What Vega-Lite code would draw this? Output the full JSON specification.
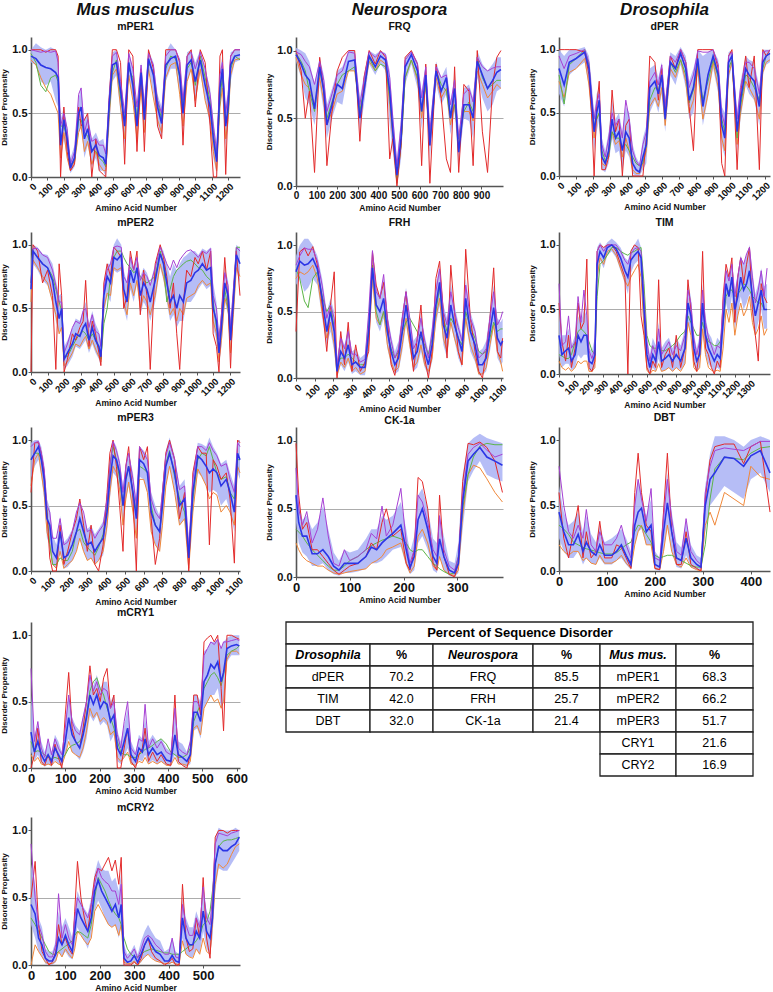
{
"$schema":"https://vega.github.io/schema/vega-lite/v6.json",
"background":"white",
"padding":0,
"config":{
"font":"Liberation Sans",
"view":{"stroke":null},
"title":{"fontSize":10.5,"fontWeight":"bold","color":"#111","frame":"group","anchor":"middle","offset":4,"subtitleFontSize":10.5,"subtitleFontWeight":"bold","subtitleColor":"#111","subtitleFont":"Liberation Sans"},
"axis":{"domainColor":"#555","domainWidth":1.6,"tickColor":"#555","tickWidth":1,"tickSize":3,"labelFontWeight":"bold","labelColor":"#111","labelFontSize":10,"labelPadding":1,"titleFontWeight":"bold","titleColor":"#111","titleFontSize":8.5,"titlePadding":3,"grid":false,"labelOverlap":false,"labelFlush":false},
"axisY":{"labelFontSize":11,"titleFontSize":8}
},
"datasets":{
"mPER1":[
{"x":0,"b":0.95,"l":0.9,"h":1,"r":1,"v":1,"o":0.92,"g":0.97},
{"x":30,"b":0.93,"l":0.88,"h":1.05,"r":1,"v":0.99,"o":0.88,"g":0.9},
{"x":60,"b":0.88,"l":0.75,"h":1.02,"r":1,"v":0.98,"o":0.78,"g":0.72},
{"x":90,"b":0.86,"l":0.72,"h":1,"r":0.98,"v":0.99,"o":0.7,"g":0.67},
{"x":120,"b":0.85,"l":0.75,"h":1.02,"r":1,"v":0.98,"o":0.65,"g":0.78},
{"x":150,"b":0.82,"l":0.6,"h":1,"r":1,"v":0.99,"o":0.55,"g":0.8},
{"x":165,"b":0.78,"l":0.55,"h":0.95,"r":0.95,"v":0.9,"o":0.5,"g":0.75},
{"x":180,"b":0.25,"l":0.1,"h":0.45,"r":0,"v":0.4,"o":0.15,"g":0.4},
{"x":200,"b":0.45,"l":0.3,"h":0.55,"r":0.55,"v":0.5,"o":0.35,"g":0.4},
{"x":220,"b":0.3,"l":0.15,"h":0.4,"r":0.2,"v":0.38,"o":0.15,"g":0.3},
{"x":240,"b":0.07,"l":0.03,"h":0.15,"r":0.05,"v":0.1,"o":0.05,"g":0.1},
{"x":265,"b":0.15,"l":0.08,"h":0.25,"r":0.1,"v":0.2,"o":0.12,"g":0.12},
{"x":290,"b":0.5,"l":0.35,"h":0.62,"r":0.55,"v":0.65,"o":0.35,"g":0.45},
{"x":305,"b":0.55,"l":0.4,"h":0.7,"r":0.4,"v":0.7,"o":0.4,"g":0.45},
{"x":325,"b":0.3,"l":0.15,"h":0.45,"r":0.45,"v":0.35,"o":0.2,"g":0.35},
{"x":345,"b":0.38,"l":0.25,"h":0.5,"r":0.5,"v":0.45,"o":0.28,"g":0.32},
{"x":370,"b":0.2,"l":0.08,"h":0.3,"r":0,"v":0.28,"o":0.1,"g":0.22},
{"x":395,"b":0.25,"l":0.15,"h":0.35,"r":0.3,"v":0.3,"o":0.2,"g":0.2},
{"x":415,"b":0.17,"l":0.05,"h":0.28,"r":0.05,"v":0.25,"o":0.1,"g":0.15},
{"x":440,"b":0.15,"l":0.05,"h":0.3,"r":0.02,"v":0.25,"o":0.05,"g":0.12},
{"x":455,"b":0.1,"l":0,"h":0.2,"r":0,"v":0.18,"o":0.05,"g":0.08},
{"x":475,"b":0.55,"l":0.35,"h":0.7,"r":0.6,"v":0.6,"o":0.45,"g":0.5},
{"x":495,"b":0.88,"l":0.75,"h":0.98,"r":1,"v":0.95,"o":0.8,"g":0.82},
{"x":520,"b":0.9,"l":0.8,"h":1,"r":1,"v":0.98,"o":0.85,"g":0.92},
{"x":545,"b":0.68,"l":0.5,"h":0.8,"r":0.9,"v":0.75,"o":0.55,"g":0.62},
{"x":570,"b":0.4,"l":0.25,"h":0.5,"r":0.1,"v":0.5,"o":0.3,"g":0.45},
{"x":595,"b":0.9,"l":0.8,"h":1,"r":1,"v":0.97,"o":0.8,"g":0.85},
{"x":620,"b":0.72,"l":0.6,"h":0.85,"r":0.95,"v":0.85,"o":0.6,"g":0.78},
{"x":645,"b":0.4,"l":0.3,"h":0.55,"r":0.2,"v":0.55,"o":0.3,"g":0.45},
{"x":670,"b":0.82,"l":0.7,"h":0.9,"r":0.85,"v":0.88,"o":0.7,"g":0.8},
{"x":690,"b":0.45,"l":0.35,"h":0.6,"r":0.2,"v":0.55,"o":0.35,"g":0.5},
{"x":715,"b":0.93,"l":0.85,"h":1,"r":1,"v":0.97,"o":0.85,"g":0.9},
{"x":745,"b":0.8,"l":0.65,"h":0.9,"r":0.85,"v":0.88,"o":0.62,"g":0.82},
{"x":770,"b":0.55,"l":0.42,"h":0.65,"r":0.4,"v":0.6,"o":0.45,"g":0.6},
{"x":795,"b":0.42,"l":0.3,"h":0.55,"r":0.3,"v":0.5,"o":0.35,"g":0.45},
{"x":820,"b":0.88,"l":0.75,"h":0.98,"r":1,"v":0.95,"o":0.78,"g":0.85},
{"x":850,"b":0.93,"l":0.85,"h":1.05,"r":1,"v":1,"o":0.88,"g":0.95},
{"x":880,"b":0.95,"l":0.85,"h":1,"r":1,"v":1,"o":0.9,"g":0.93},
{"x":905,"b":0.8,"l":0.65,"h":0.9,"r":0.9,"v":0.92,"o":0.65,"g":0.78},
{"x":925,"b":0.5,"l":0.35,"h":0.65,"r":0.25,"v":0.6,"o":0.4,"g":0.58},
{"x":950,"b":0.88,"l":0.75,"h":0.98,"r":0.95,"v":0.95,"o":0.75,"g":0.85},
{"x":975,"b":0.92,"l":0.85,"h":1,"r":1,"v":0.98,"o":0.85,"g":0.9},
{"x":1000,"b":0.75,"l":0.6,"h":0.9,"r":0.55,"v":0.85,"o":0.6,"g":0.72},
{"x":1030,"b":0.92,"l":0.82,"h":1,"r":1,"v":0.98,"o":0.85,"g":0.95},
{"x":1060,"b":0.72,"l":0.6,"h":0.85,"r":0.9,"v":0.85,"o":0.6,"g":0.78},
{"x":1090,"b":0.55,"l":0.4,"h":0.7,"r":0.4,"v":0.65,"o":0.45,"g":0.6},
{"x":1110,"b":0.3,"l":0.15,"h":0.45,"r":0,"v":0.4,"o":0.2,"g":0.35},
{"x":1130,"b":0.12,"l":0.02,"h":0.25,"r":0,"v":0.2,"o":0.05,"g":0.15},
{"x":1150,"b":0.7,"l":0.55,"h":0.85,"r":0.95,"v":0.8,"o":0.55,"g":0.6},
{"x":1165,"b":0.85,"l":0.7,"h":0.95,"r":1,"v":0.9,"o":0.7,"g":0.8},
{"x":1185,"b":0.4,"l":0.25,"h":0.55,"r":0.02,"v":0.5,"o":0.3,"g":0.45},
{"x":1200,"b":0.55,"l":0.4,"h":0.7,"r":0.6,"v":0.65,"o":0.45,"g":0.5},
{"x":1215,"b":0.88,"l":0.75,"h":0.98,"r":0.95,"v":0.95,"o":0.8,"g":0.85},
{"x":1240,"b":0.95,"l":0.9,"h":1,"r":1,"v":1,"o":0.92,"g":0.95},
{"x":1272,"b":0.96,"l":0.92,"h":1,"r":1,"v":1,"o":0.93,"g":0.92}],
"FRQ":[
{"x":0,"b":0.97,"l":0.92,"h":1.02,"r":1,"v":0.99,"o":0.95,"g":0.98},
{"x":25,"b":0.9,"l":0.8,"h":1,"r":0.85,"v":0.97,"o":0.82,"g":0.92},
{"x":45,"b":0.82,"l":0.65,"h":0.98,"r":0.5,"v":0.92,"o":0.75,"g":0.85},
{"x":65,"b":0.78,"l":0.6,"h":0.92,"r":0.7,"v":0.88,"o":0.72,"g":0.7},
{"x":90,"b":0.57,"l":0.45,"h":0.75,"r":0.1,"v":0.75,"o":0.6,"g":0.55},
{"x":115,"b":0.88,"l":0.75,"h":0.95,"r":0.95,"v":0.92,"o":0.8,"g":0.85},
{"x":135,"b":0.7,"l":0.55,"h":0.82,"r":0.7,"v":0.78,"o":0.62,"g":0.72},
{"x":150,"b":0.45,"l":0.35,"h":0.6,"r":0.15,"v":0.55,"o":0.45,"g":0.5},
{"x":175,"b":0.6,"l":0.5,"h":0.72,"r":0.55,"v":0.68,"o":0.55,"g":0.62},
{"x":200,"b":0.75,"l":0.62,"h":0.85,"r":0.85,"v":0.82,"o":0.68,"g":0.75},
{"x":225,"b":0.72,"l":0.6,"h":0.88,"r":0.95,"v":0.85,"o":0.7,"g":0.82},
{"x":255,"b":0.92,"l":0.85,"h":1,"r":1,"v":0.99,"o":0.85,"g":0.85},
{"x":285,"b":0.93,"l":0.85,"h":1,"r":1,"v":0.98,"o":0.85,"g":0.88},
{"x":310,"b":0.5,"l":0.4,"h":0.65,"r":0.33,"v":0.6,"o":0.55,"g":0.55},
{"x":330,"b":0.7,"l":0.6,"h":0.82,"r":0.8,"v":0.78,"o":0.7,"g":0.72},
{"x":355,"b":0.96,"l":0.9,"h":1,"r":1,"v":0.99,"o":0.92,"g":0.95},
{"x":385,"b":0.88,"l":0.82,"h":0.97,"r":0.9,"v":0.95,"o":0.85,"g":0.85},
{"x":410,"b":0.96,"l":0.9,"h":1,"r":1,"v":0.99,"o":0.93,"g":0.9},
{"x":435,"b":0.93,"l":0.85,"h":0.98,"r":0.95,"v":0.97,"o":0.9,"g":0.88},
{"x":455,"b":0.7,"l":0.45,"h":0.85,"r":0.2,"v":0.8,"o":0.6,"g":0.65},
{"x":470,"b":0.4,"l":0.25,"h":0.55,"r":0.35,"v":0.5,"o":0.35,"g":0.4},
{"x":490,"b":0.08,"l":0,"h":0.2,"r":0,"v":0.15,"o":0.05,"g":0.02},
{"x":510,"b":0.35,"l":0.2,"h":0.5,"r":0.3,"v":0.45,"o":0.3,"g":0.3},
{"x":530,"b":0.88,"l":0.75,"h":0.95,"r":0.95,"v":0.93,"o":0.8,"g":0.8},
{"x":560,"b":0.97,"l":0.9,"h":1,"r":1,"v":0.99,"o":0.93,"g":0.93},
{"x":590,"b":0.85,"l":0.72,"h":0.92,"r":0.9,"v":0.9,"o":0.78,"g":0.8},
{"x":610,"b":0.55,"l":0.42,"h":0.7,"r":0.15,"v":0.65,"o":0.5,"g":0.55},
{"x":630,"b":0.82,"l":0.7,"h":0.9,"r":0.9,"v":0.88,"o":0.75,"g":0.75},
{"x":650,"b":0.3,"l":0.2,"h":0.45,"r":0.02,"v":0.4,"o":0.3,"g":0.35},
{"x":680,"b":0.85,"l":0.75,"h":0.92,"r":0.9,"v":0.88,"o":0.8,"g":0.85},
{"x":705,"b":0.7,"l":0.6,"h":0.8,"r":0.65,"v":0.8,"o":0.65,"g":0.75},
{"x":730,"b":0.8,"l":0.68,"h":0.88,"r":0.2,"v":0.82,"o":0.72,"g":0.7},
{"x":750,"b":0.5,"l":0.38,"h":0.62,"r":0.1,"v":0.6,"o":0.45,"g":0.5},
{"x":770,"b":0.72,"l":0.55,"h":0.82,"r":0.88,"v":0.78,"o":0.6,"g":0.6},
{"x":790,"b":0.25,"l":0.15,"h":0.38,"r":0.1,"v":0.35,"o":0.3,"g":0.35},
{"x":815,"b":0.6,"l":0.5,"h":0.72,"r":0.75,"v":0.68,"o":0.55,"g":0.55},
{"x":840,"b":0.6,"l":0.48,"h":0.75,"r":0.7,"v":0.72,"o":0.55,"g":0.62},
{"x":860,"b":0.5,"l":0.35,"h":0.65,"r":0.15,"v":0.62,"o":0.48,"g":0.55},
{"x":880,"b":0.92,"l":0.8,"h":1,"r":1,"v":0.95,"o":0.85,"g":0.95},
{"x":905,"b":0.82,"l":0.65,"h":0.9,"r":0.4,"v":0.88,"o":0.75,"g":0.8},
{"x":930,"b":0.72,"l":0.55,"h":0.85,"r":0.1,"v":0.85,"o":0.65,"g":0.72},
{"x":955,"b":0.78,"l":0.6,"h":0.9,"r":0.75,"v":0.87,"o":0.7,"g":0.75},
{"x":975,"b":0.84,"l":0.7,"h":0.95,"r":0.95,"v":0.88,"o":0.75,"g":0.78},
{"x":995,"b":0.86,"l":0.72,"h":0.95,"r":1,"v":0.88,"o":0.72,"g":0.78}],
"dPER":[
{"x":0,"b":0.85,"l":0.65,"h":1,"r":1,"v":0.95,"o":0.75,"g":0.8},
{"x":30,"b":0.72,"l":0.55,"h":0.95,"r":1,"v":0.85,"o":0.62,"g":0.57},
{"x":60,"b":0.9,"l":0.8,"h":1,"r":1,"v":0.95,"o":0.82,"g":0.88},
{"x":100,"b":0.93,"l":0.85,"h":1,"r":1,"v":0.97,"o":0.85,"g":0.93},
{"x":150,"b":0.98,"l":0.9,"h":1.02,"r":0.98,"v":1,"o":0.93,"g":1},
{"x":175,"b":0.85,"l":0.7,"h":0.95,"r":0.8,"v":0.9,"o":0.72,"g":0.88},
{"x":190,"b":0.6,"l":0.45,"h":0.75,"r":0.5,"v":0.65,"o":0.5,"g":0.62},
{"x":205,"b":0.35,"l":0.2,"h":0.5,"r":0,"v":0.45,"o":0.3,"g":0.4},
{"x":220,"b":0.5,"l":0.35,"h":0.65,"r":0.55,"v":0.58,"o":0.45,"g":0.45},
{"x":235,"b":0.6,"l":0.45,"h":0.7,"r":0.75,"v":0.65,"o":0.5,"g":0.5},
{"x":250,"b":0.15,"l":0.05,"h":0.3,"r":0.05,"v":0.25,"o":0.1,"g":0.2},
{"x":270,"b":0.1,"l":0.03,"h":0.2,"r":0.05,"v":0.15,"o":0.08,"g":0.12},
{"x":290,"b":0.2,"l":0.1,"h":0.35,"r":0.15,"v":0.3,"o":0.2,"g":0.15},
{"x":310,"b":0.45,"l":0.3,"h":0.6,"r":0.68,"v":0.5,"o":0.35,"g":0.35},
{"x":330,"b":0.3,"l":0.18,"h":0.45,"r":0.35,"v":0.4,"o":0.25,"g":0.3},
{"x":350,"b":0.35,"l":0.2,"h":0.5,"r":0.45,"v":0.45,"o":0.28,"g":0.3},
{"x":370,"b":0.2,"l":0.05,"h":0.35,"r":0,"v":0.3,"o":0.15,"g":0.22},
{"x":390,"b":0.35,"l":0.2,"h":0.55,"r":0.4,"v":0.6,"o":0.3,"g":0.25},
{"x":410,"b":0.3,"l":0.15,"h":0.5,"r":0.45,"v":0.45,"o":0.2,"g":0.2},
{"x":430,"b":0.1,"l":0.02,"h":0.25,"r":0,"v":0.2,"o":0.05,"g":0.15},
{"x":450,"b":0.05,"l":0,"h":0.15,"r":0,"v":0.12,"o":0.02,"g":0.1},
{"x":470,"b":0.03,"l":0,"h":0.1,"r":0,"v":0.08,"o":0.02,"g":0.08},
{"x":490,"b":0.15,"l":0.05,"h":0.3,"r":0,"v":0.25,"o":0.1,"g":0.1},
{"x":510,"b":0.25,"l":0.1,"h":0.4,"r":0.3,"v":0.35,"o":0.2,"g":0.25},
{"x":530,"b":0.7,"l":0.5,"h":0.85,"r":0.95,"v":0.75,"o":0.55,"g":0.6},
{"x":560,"b":0.75,"l":0.6,"h":0.88,"r":0.9,"v":0.82,"o":0.62,"g":0.7},
{"x":580,"b":0.65,"l":0.5,"h":0.78,"r":0.6,"v":0.72,"o":0.55,"g":0.68},
{"x":600,"b":0.8,"l":0.65,"h":0.9,"r":0.85,"v":0.88,"o":0.7,"g":0.78},
{"x":620,"b":0.45,"l":0.35,"h":0.6,"r":0.5,"v":0.55,"o":0.4,"g":0.55},
{"x":650,"b":0.9,"l":0.8,"h":0.98,"r":0.95,"v":0.95,"o":0.85,"g":0.9},
{"x":680,"b":0.85,"l":0.72,"h":0.95,"r":0.85,"v":0.9,"o":0.78,"g":0.82},
{"x":710,"b":0.97,"l":0.88,"h":1.02,"r":1,"v":1,"o":0.92,"g":0.92},
{"x":740,"b":0.85,"l":0.7,"h":0.95,"r":0.9,"v":0.9,"o":0.75,"g":0.8},
{"x":760,"b":0.6,"l":0.45,"h":0.75,"r":0.55,"v":0.7,"o":0.5,"g":0.58},
{"x":785,"b":0.7,"l":0.5,"h":0.85,"r":0.2,"v":0.8,"o":0.6,"g":0.68},
{"x":810,"b":0.93,"l":0.8,"h":1,"r":1,"v":0.99,"o":0.85,"g":0.88},
{"x":840,"b":0.55,"l":0.4,"h":0.95,"r":1,"v":0.98,"o":0.45,"g":0.6},
{"x":870,"b":0.8,"l":0.62,"h":0.98,"r":1,"v":0.98,"o":0.65,"g":0.75},
{"x":900,"b":0.95,"l":0.85,"h":1,"r":1,"v":1,"o":0.9,"g":0.92},
{"x":930,"b":0.8,"l":0.65,"h":0.92,"r":0.85,"v":0.88,"o":0.7,"g":0.78},
{"x":950,"b":0.4,"l":0.25,"h":0.55,"r":0.1,"v":0.5,"o":0.3,"g":0.45},
{"x":968,"b":0.3,"l":0.15,"h":0.5,"r":0,"v":0.4,"o":0.2,"g":0.35},
{"x":990,"b":0.9,"l":0.75,"h":0.98,"r":0.95,"v":0.95,"o":0.8,"g":0.85},
{"x":1010,"b":0.95,"l":0.88,"h":1,"r":1,"v":0.98,"o":0.9,"g":0.92},
{"x":1040,"b":0.35,"l":0.2,"h":0.5,"r":0.05,"v":0.45,"o":0.25,"g":0.3},
{"x":1060,"b":0.6,"l":0.45,"h":0.75,"r":0.65,"v":0.7,"o":0.5,"g":0.55},
{"x":1090,"b":0.85,"l":0.72,"h":0.95,"r":0.95,"v":0.9,"o":0.75,"g":0.8},
{"x":1110,"b":0.8,"l":0.65,"h":0.92,"r":0.7,"v":0.9,"o":0.7,"g":0.78},
{"x":1140,"b":0.75,"l":0.6,"h":0.9,"r":0.95,"v":0.85,"o":0.62,"g":0.7},
{"x":1170,"b":0.55,"l":0.4,"h":0.7,"r":0.05,"v":0.65,"o":0.45,"g":0.6},
{"x":1190,"b":0.9,"l":0.8,"h":1,"r":1,"v":0.98,"o":0.82,"g":0.85},
{"x":1210,"b":0.95,"l":0.88,"h":1,"r":0.95,"v":0.99,"o":0.9,"g":0.95},
{"x":1232,"b":0.97,"l":0.9,"h":1,"r":1,"v":0.99,"o":0.92,"g":0.97}],
"mPER2":[
{"x":0,"b":0.65,"l":0.5,"h":0.85,"r":0,"v":0.7,"o":0.55,"g":0.7},
{"x":12,"b":0.95,"l":0.85,"h":1,"r":1,"v":0.97,"o":0.88,"g":0.95},
{"x":40,"b":0.9,"l":0.8,"h":0.98,"r":0.95,"v":0.97,"o":0.82,"g":0.9},
{"x":70,"b":0.85,"l":0.72,"h":0.93,"r":0.7,"v":0.92,"o":0.75,"g":0.85},
{"x":100,"b":0.82,"l":0.68,"h":0.92,"r":0.8,"v":0.9,"o":0.7,"g":0.82},
{"x":130,"b":0.72,"l":0.55,"h":0.85,"r":0.6,"v":0.8,"o":0.55,"g":0.75},
{"x":150,"b":0.55,"l":0.4,"h":0.72,"r":0.02,"v":0.68,"o":0.45,"g":0.65},
{"x":170,"b":0.42,"l":0.3,"h":0.6,"r":0.85,"v":0.55,"o":0.3,"g":0.55},
{"x":185,"b":0.5,"l":0.35,"h":0.62,"r":0.6,"v":0.55,"o":0.35,"g":0.48},
{"x":200,"b":0.1,"l":0.02,"h":0.2,"r":0,"v":0.15,"o":0.05,"g":0.12},
{"x":220,"b":0.15,"l":0.05,"h":0.25,"r":0.1,"v":0.22,"o":0.08,"g":0.12},
{"x":250,"b":0.22,"l":0.12,"h":0.35,"r":0.3,"v":0.35,"o":0.15,"g":0.2},
{"x":270,"b":0.3,"l":0.2,"h":0.42,"r":0.25,"v":0.4,"o":0.22,"g":0.25},
{"x":295,"b":0.28,"l":0.18,"h":0.4,"r":0.35,"v":0.38,"o":0.2,"g":0.3},
{"x":315,"b":0.35,"l":0.22,"h":0.5,"r":0.4,"v":0.48,"o":0.25,"g":0.32},
{"x":330,"b":0.38,"l":0.25,"h":0.55,"r":0.72,"v":0.5,"o":0.28,"g":0.3},
{"x":350,"b":0.25,"l":0.15,"h":0.38,"r":0.2,"v":0.35,"o":0.18,"g":0.25},
{"x":370,"b":0.35,"l":0.22,"h":0.48,"r":0.4,"v":0.45,"o":0.25,"g":0.3},
{"x":390,"b":0.25,"l":0.15,"h":0.38,"r":0.3,"v":0.32,"o":0.18,"g":0.25},
{"x":410,"b":0.2,"l":0.1,"h":0.32,"r":0.15,"v":0.3,"o":0.12,"g":0.18},
{"x":422,"b":0.12,"l":0.05,"h":0.25,"r":0.05,"v":0.2,"o":0.08,"g":0.1},
{"x":440,"b":0.6,"l":0.45,"h":0.7,"r":0.7,"v":0.65,"o":0.5,"g":0.38},
{"x":460,"b":0.75,"l":0.6,"h":0.85,"r":0.85,"v":0.8,"o":0.62,"g":0.5},
{"x":480,"b":0.7,"l":0.55,"h":0.85,"r":0.75,"v":0.85,"o":0.6,"g":0.75},
{"x":500,"b":0.9,"l":0.8,"h":1,"r":0.98,"v":0.98,"o":0.82,"g":0.9},
{"x":520,"b":0.88,"l":0.78,"h":1.05,"r":0.95,"v":0.99,"o":0.8,"g":0.95},
{"x":545,"b":0.92,"l":0.8,"h":1,"r":0.9,"v":0.98,"o":0.82,"g":0.95},
{"x":560,"b":0.65,"l":0.5,"h":0.8,"r":0.5,"v":0.75,"o":0.55,"g":0.9},
{"x":580,"b":0.55,"l":0.4,"h":0.7,"r":0.6,"v":0.7,"o":0.45,"g":0.85},
{"x":600,"b":0.8,"l":0.65,"h":0.92,"r":0.95,"v":0.9,"o":0.7,"g":0.82},
{"x":620,"b":0.7,"l":0.55,"h":0.82,"r":0.8,"v":0.8,"o":0.6,"g":0.78},
{"x":640,"b":0.82,"l":0.7,"h":0.92,"r":0.95,"v":0.9,"o":0.72,"g":0.8},
{"x":660,"b":0.6,"l":0.45,"h":0.75,"r":0.45,"v":0.72,"o":0.5,"g":0.75},
{"x":680,"b":0.7,"l":0.55,"h":0.82,"r":0.8,"v":0.78,"o":0.6,"g":0.72},
{"x":700,"b":0.65,"l":0.5,"h":0.78,"r":0.6,"v":0.75,"o":0.55,"g":0.7},
{"x":720,"b":0.55,"l":0.4,"h":0.7,"r":0.02,"v":0.68,"o":0.45,"g":0.72},
{"x":750,"b":0.72,"l":0.55,"h":0.85,"r":0.85,"v":0.82,"o":0.6,"g":0.75},
{"x":780,"b":0.93,"l":0.82,"h":1,"r":1,"v":0.98,"o":0.85,"g":0.95},
{"x":800,"b":0.85,"l":0.72,"h":0.95,"r":0.9,"v":0.92,"o":0.75,"g":0.85},
{"x":820,"b":0.7,"l":0.55,"h":0.85,"r":0.75,"v":0.85,"o":0.6,"g":0.55},
{"x":840,"b":0.55,"l":0.4,"h":0.75,"r":0.5,"v":0.8,"o":0.45,"g":0.65},
{"x":860,"b":0.6,"l":0.45,"h":0.85,"r":0.7,"v":0.88,"o":0.5,"g":0.75},
{"x":880,"b":0.5,"l":0.35,"h":0.8,"r":0.3,"v":0.82,"o":0.4,"g":0.8},
{"x":898,"b":0.6,"l":0.4,"h":0.85,"r":0.02,"v":0.88,"o":0.5,"g":0.82},
{"x":920,"b":0.55,"l":0.4,"h":0.9,"r":0.55,"v":0.92,"o":0.45,"g":0.85},
{"x":940,"b":0.7,"l":0.55,"h":0.92,"r":0.8,"v":0.95,"o":0.58,"g":0.87},
{"x":965,"b":0.72,"l":0.55,"h":0.95,"r":0.75,"v":0.96,"o":0.6,"g":0.88},
{"x":990,"b":0.78,"l":0.6,"h":0.95,"r":0.9,"v":0.93,"o":0.62,"g":0.85},
{"x":1010,"b":0.8,"l":0.65,"h":0.92,"r":0.85,"v":0.9,"o":0.68,"g":0.82},
{"x":1035,"b":0.85,"l":0.7,"h":0.97,"r":0.95,"v":0.95,"o":0.72,"g":0.8},
{"x":1060,"b":0.8,"l":0.65,"h":0.95,"r":0.8,"v":0.93,"o":0.68,"g":0.75},
{"x":1085,"b":0.82,"l":0.68,"h":0.98,"r":0.95,"v":0.97,"o":0.7,"g":0.72},
{"x":1100,"b":0.5,"l":0.35,"h":0.7,"r":0.3,"v":0.6,"o":0.4,"g":0.55},
{"x":1120,"b":0.4,"l":0.25,"h":0.55,"r":0.2,"v":0.5,"o":0.3,"g":0.35},
{"x":1135,"b":0.15,"l":0.05,"h":0.3,"r":0,"v":0.25,"o":0.08,"g":0.28},
{"x":1150,"b":0.35,"l":0.2,"h":0.5,"r":0.45,"v":0.45,"o":0.25,"g":0.4},
{"x":1170,"b":0.7,"l":0.55,"h":0.82,"r":0.9,"v":0.78,"o":0.58,"g":0.65},
{"x":1190,"b":0.6,"l":0.45,"h":0.72,"r":0.55,"v":0.68,"o":0.5,"g":0.5},
{"x":1205,"b":0.25,"l":0.12,"h":0.4,"r":0.03,"v":0.35,"o":0.15,"g":0.3},
{"x":1222,"b":0.55,"l":0.4,"h":0.7,"r":0.6,"v":0.65,"o":0.45,"g":0.6},
{"x":1240,"b":0.92,"l":0.8,"h":1,"r":0.95,"v":0.98,"o":0.82,"g":0.98},
{"x":1262,"b":0.85,"l":0.7,"h":0.97,"r":0.6,"v":0.95,"o":0.75,"g":0.98}],
"FRH":[
{"x":0,"b":0.8,"l":0.7,"h":0.92,"r":0.35,"v":0.85,"o":0.75,"g":0.82},
{"x":20,"b":0.88,"l":0.75,"h":1,"r":0.95,"v":0.92,"o":0.8,"g":0.75},
{"x":45,"b":0.85,"l":0.65,"h":1.05,"r":0.98,"v":0.98,"o":0.78,"g":0.58},
{"x":65,"b":0.86,"l":0.68,"h":1.05,"r":0.92,"v":0.97,"o":0.8,"g":0.53},
{"x":90,"b":0.9,"l":0.75,"h":1,"r":0.99,"v":0.97,"o":0.85,"g":0.75},
{"x":115,"b":0.82,"l":0.7,"h":0.92,"r":0.85,"v":0.88,"o":0.75,"g":0.8},
{"x":140,"b":0.6,"l":0.45,"h":0.75,"r":0.55,"v":0.7,"o":0.5,"g":0.62},
{"x":165,"b":0.35,"l":0.25,"h":0.5,"r":0.2,"v":0.45,"o":0.3,"g":0.5},
{"x":185,"b":0.5,"l":0.35,"h":0.6,"r":0.55,"v":0.55,"o":0.42,"g":0.55},
{"x":205,"b":0.35,"l":0.2,"h":0.5,"r":0.8,"v":0.45,"o":0.25,"g":0.38},
{"x":220,"b":0.05,"l":0,"h":0.15,"r":0,"v":0.1,"o":0.02,"g":0.1},
{"x":240,"b":0.2,"l":0.1,"h":0.32,"r":0.35,"v":0.3,"o":0.12,"g":0.15},
{"x":260,"b":0.15,"l":0.05,"h":0.25,"r":0.1,"v":0.22,"o":0.08,"g":0.15},
{"x":280,"b":0.25,"l":0.12,"h":0.38,"r":0.42,"v":0.35,"o":0.15,"g":0.18},
{"x":300,"b":0.1,"l":0.03,"h":0.2,"r":0.05,"v":0.18,"o":0.05,"g":0.15},
{"x":320,"b":0.12,"l":0.05,"h":0.22,"r":0.25,"v":0.18,"o":0.08,"g":0.12},
{"x":345,"b":0.08,"l":0.02,"h":0.15,"r":0.05,"v":0.12,"o":0.03,"g":0.1},
{"x":370,"b":0.08,"l":0.02,"h":0.18,"r":0.12,"v":0.14,"o":0.05,"g":0.1},
{"x":390,"b":0.35,"l":0.2,"h":0.5,"r":0.2,"v":0.5,"o":0.25,"g":0.4},
{"x":410,"b":0.83,"l":0.7,"h":0.95,"r":0.95,"v":0.96,"o":0.75,"g":0.85},
{"x":430,"b":0.55,"l":0.42,"h":0.7,"r":0.7,"v":0.65,"o":0.45,"g":0.5},
{"x":450,"b":0.5,"l":0.35,"h":0.62,"r":0.6,"v":0.6,"o":0.4,"g":0.4},
{"x":470,"b":0.6,"l":0.45,"h":0.75,"r":0.72,"v":0.78,"o":0.5,"g":0.5},
{"x":490,"b":0.35,"l":0.22,"h":0.48,"r":0.45,"v":0.45,"o":0.25,"g":0.35},
{"x":510,"b":0.2,"l":0.1,"h":0.32,"r":0.1,"v":0.28,"o":0.12,"g":0.22},
{"x":530,"b":0.1,"l":0.03,"h":0.2,"r":0.02,"v":0.15,"o":0.05,"g":0.15},
{"x":550,"b":0.15,"l":0.05,"h":0.28,"r":0.2,"v":0.22,"o":0.08,"g":0.2},
{"x":570,"b":0.35,"l":0.2,"h":0.5,"r":0.45,"v":0.45,"o":0.25,"g":0.35},
{"x":590,"b":0.55,"l":0.4,"h":0.68,"r":0.65,"v":0.65,"o":0.45,"g":0.42},
{"x":610,"b":0.35,"l":0.22,"h":0.48,"r":0.3,"v":0.45,"o":0.25,"g":0.45},
{"x":630,"b":0.15,"l":0.05,"h":0.28,"r":0.05,"v":0.22,"o":0.08,"g":0.4},
{"x":650,"b":0.2,"l":0.08,"h":0.32,"r":0.3,"v":0.28,"o":0.12,"g":0.35},
{"x":670,"b":0.35,"l":0.2,"h":0.5,"r":0.55,"v":0.45,"o":0.25,"g":0.3},
{"x":690,"b":0.2,"l":0.08,"h":0.32,"r":0.15,"v":0.28,"o":0.1,"g":0.25},
{"x":710,"b":0.1,"l":0.02,"h":0.2,"r":0,"v":0.15,"o":0.05,"g":0.18},
{"x":730,"b":0.25,"l":0.12,"h":0.4,"r":0.2,"v":0.35,"o":0.15,"g":0.3},
{"x":750,"b":0.55,"l":0.4,"h":0.7,"r":0.75,"v":0.65,"o":0.45,"g":0.5},
{"x":770,"b":0.72,"l":0.55,"h":0.85,"r":0.88,"v":0.82,"o":0.6,"g":0.68},
{"x":790,"b":0.4,"l":0.25,"h":0.55,"r":0.5,"v":0.5,"o":0.3,"g":0.45},
{"x":810,"b":0.3,"l":0.15,"h":0.45,"r":0.15,"v":0.4,"o":0.2,"g":0.35},
{"x":830,"b":0.55,"l":0.4,"h":0.72,"r":0.85,"v":0.65,"o":0.42,"g":0.45},
{"x":850,"b":0.4,"l":0.28,"h":0.55,"r":0.5,"v":0.5,"o":0.3,"g":0.4},
{"x":870,"b":0.3,"l":0.15,"h":0.42,"r":0.2,"v":0.38,"o":0.2,"g":0.3},
{"x":890,"b":0.2,"l":0.08,"h":0.32,"r":0.1,"v":0.28,"o":0.1,"g":0.25},
{"x":910,"b":0.6,"l":0.42,"h":0.75,"r":0.97,"v":0.7,"o":0.45,"g":0.5},
{"x":935,"b":0.35,"l":0.2,"h":0.5,"r":0.45,"v":0.45,"o":0.25,"g":0.38},
{"x":960,"b":0.25,"l":0.12,"h":0.38,"r":0.2,"v":0.35,"o":0.15,"g":0.3},
{"x":980,"b":0.1,"l":0.02,"h":0.2,"r":0.05,"v":0.15,"o":0.03,"g":0.2},
{"x":1000,"b":0.1,"l":0.02,"h":0.22,"r":0,"v":0.18,"o":0.03,"g":0.18},
{"x":1020,"b":0.15,"l":0.05,"h":0.28,"r":0.2,"v":0.22,"o":0.08,"g":0.2},
{"x":1040,"b":0.35,"l":0.2,"h":0.5,"r":0.45,"v":0.45,"o":0.25,"g":0.3},
{"x":1060,"b":0.53,"l":0.38,"h":0.7,"r":0.83,"v":0.65,"o":0.4,"g":0.42},
{"x":1080,"b":0.3,"l":0.15,"h":0.45,"r":0.2,"v":0.4,"o":0.2,"g":0.35},
{"x":1098,"b":0.25,"l":0.1,"h":0.42,"r":0.15,"v":0.45,"o":0.12,"g":0.37},
{"x":1108,"b":0.28,"l":0.12,"h":0.45,"r":0.3,"v":0.5,"o":0.05,"g":0.37}],
"TIM":[
{"x":0,"b":0.3,"l":0.15,"h":0.6,"r":0.55,"v":0.7,"o":0.1,"g":0.15},
{"x":20,"b":0.15,"l":0.05,"h":0.3,"r":0.25,"v":0.22,"o":0.05,"g":0.14},
{"x":45,"b":0.18,"l":0.08,"h":0.3,"r":0.1,"v":0.25,"o":0.03,"g":0.12},
{"x":65,"b":0.2,"l":0.08,"h":0.35,"r":0.3,"v":0.45,"o":0.05,"g":0.12},
{"x":85,"b":0.1,"l":0.03,"h":0.22,"r":0.05,"v":0.2,"o":0.02,"g":0.15},
{"x":110,"b":0.15,"l":0.05,"h":0.3,"r":0.2,"v":0.25,"o":0.05,"g":0.25},
{"x":130,"b":0.3,"l":0.15,"h":0.45,"r":0.55,"v":0.6,"o":0.1,"g":0.33},
{"x":150,"b":0.25,"l":0.12,"h":0.4,"r":0.35,"v":0.4,"o":0.08,"g":0.35},
{"x":170,"b":0.3,"l":0.15,"h":0.5,"r":0.4,"v":0.65,"o":0.1,"g":0.33},
{"x":190,"b":0.3,"l":0.15,"h":0.45,"r":0.89,"v":0.45,"o":0.1,"g":0.3},
{"x":205,"b":0.1,"l":0.03,"h":0.2,"r":0.05,"v":0.18,"o":0.02,"g":0.25},
{"x":225,"b":0.08,"l":0.02,"h":0.18,"r":0.02,"v":0.12,"o":0.02,"g":0.18},
{"x":245,"b":0.15,"l":0.05,"h":0.28,"r":0.1,"v":0.2,"o":0.05,"g":0.15},
{"x":260,"b":0.85,"l":0.7,"h":0.98,"r":0.95,"v":0.95,"o":0.75,"g":0.6},
{"x":280,"b":0.95,"l":0.88,"h":1.02,"r":1,"v":1,"o":0.9,"g":0.85},
{"x":305,"b":0.9,"l":0.82,"h":0.98,"r":0.98,"v":0.95,"o":0.85,"g":0.88},
{"x":330,"b":0.98,"l":0.92,"h":1.02,"r":1,"v":1,"o":0.95,"g":0.92},
{"x":360,"b":1,"l":0.95,"h":1.05,"r":1,"v":1,"o":0.97,"g":0.98},
{"x":390,"b":0.97,"l":0.9,"h":1.02,"r":0.95,"v":1,"o":0.92,"g":0.98},
{"x":420,"b":0.9,"l":0.8,"h":0.98,"r":0.85,"v":0.95,"o":0.82,"g":0.95},
{"x":450,"b":0.8,"l":0.7,"h":0.9,"r":0.75,"v":0.88,"o":0.72,"g":0.93},
{"x":470,"b":0.75,"l":0.62,"h":0.88,"r":0,"v":0.85,"o":0.68,"g":0.92},
{"x":490,"b":0.88,"l":0.78,"h":0.96,"r":0.95,"v":0.93,"o":0.75,"g":0.94},
{"x":515,"b":0.92,"l":0.85,"h":1,"r":1,"v":0.97,"o":0.8,"g":0.95},
{"x":540,"b":0.95,"l":0.88,"h":1.05,"r":0.98,"v":0.98,"o":0.85,"g":0.97},
{"x":560,"b":0.9,"l":0.75,"h":0.98,"r":0.45,"v":0.95,"o":0.75,"g":0.98},
{"x":580,"b":0.5,"l":0.3,"h":0.65,"r":0.3,"v":0.6,"o":0.35,"g":0.7},
{"x":600,"b":0.15,"l":0.05,"h":0.3,"r":0.05,"v":0.25,"o":0.03,"g":0.3},
{"x":620,"b":0.05,"l":0,"h":0.15,"r":0,"v":0.1,"o":0,"g":0.22},
{"x":640,"b":0.15,"l":0.05,"h":0.28,"r":0.1,"v":0.22,"o":0.03,"g":0.2},
{"x":660,"b":0.1,"l":0.02,"h":0.22,"r":0.05,"v":0.15,"o":0.02,"g":0.2},
{"x":680,"b":0.25,"l":0.12,"h":0.4,"r":0.73,"v":0.35,"o":0.08,"g":0.2},
{"x":700,"b":0.1,"l":0.02,"h":0.2,"r":0.05,"v":0.15,"o":0.02,"g":0.18},
{"x":725,"b":0.12,"l":0.03,"h":0.25,"r":0.15,"v":0.2,"o":0.03,"g":0.18},
{"x":750,"b":0.15,"l":0.05,"h":0.28,"r":0.2,"v":0.25,"o":0.05,"g":0.2},
{"x":775,"b":0.1,"l":0.02,"h":0.2,"r":0.05,"v":0.15,"o":0.02,"g":0.22},
{"x":800,"b":0.15,"l":0.05,"h":0.28,"r":0.3,"v":0.22,"o":0.05,"g":0.25},
{"x":830,"b":0.1,"l":0.03,"h":0.22,"r":0.05,"v":0.18,"o":0.02,"g":0.3},
{"x":860,"b":0.2,"l":0.08,"h":0.35,"r":0.2,"v":0.3,"o":0.08,"g":0.33},
{"x":880,"b":0.55,"l":0.4,"h":0.7,"r":0.73,"v":0.65,"o":0.4,"g":0.45},
{"x":900,"b":0.45,"l":0.3,"h":0.6,"r":0.5,"v":0.55,"o":0.3,"g":0.4},
{"x":920,"b":0.2,"l":0.08,"h":0.32,"r":0.1,"v":0.28,"o":0.05,"g":0.35},
{"x":940,"b":0.1,"l":0.02,"h":0.2,"r":0.02,"v":0.15,"o":0.02,"g":0.3},
{"x":960,"b":0.15,"l":0.05,"h":0.3,"r":0.2,"v":0.25,"o":0.05,"g":0.3},
{"x":980,"b":0.55,"l":0.35,"h":0.7,"r":0.95,"v":0.65,"o":0.35,"g":0.4},
{"x":1000,"b":0.3,"l":0.15,"h":0.45,"r":0.2,"v":0.4,"o":0.15,"g":0.3},
{"x":1020,"b":0.2,"l":0.08,"h":0.32,"r":0.15,"v":0.28,"o":0.05,"g":0.25},
{"x":1040,"b":0.15,"l":0.05,"h":0.28,"r":0.05,"v":0.22,"o":0.03,"g":0.24},
{"x":1060,"b":0.1,"l":0.02,"h":0.2,"r":0,"v":0.15,"o":0.02,"g":0.22},
{"x":1080,"b":0.15,"l":0.05,"h":0.28,"r":0.1,"v":0.22,"o":0.03,"g":0.22},
{"x":1100,"b":0.12,"l":0.03,"h":0.25,"r":0.05,"v":0.2,"o":0.02,"g":0.25},
{"x":1120,"b":0.4,"l":0.25,"h":0.6,"r":0.6,"v":0.55,"o":0.2,"g":0.4},
{"x":1140,"b":0.7,"l":0.55,"h":0.82,"r":0.85,"v":0.8,"o":0.5,"g":0.6},
{"x":1160,"b":0.6,"l":0.45,"h":0.75,"r":0.75,"v":0.72,"o":0.4,"g":0.65},
{"x":1180,"b":0.75,"l":0.6,"h":0.88,"r":0.9,"v":0.85,"o":0.55,"g":0.65},
{"x":1200,"b":0.5,"l":0.35,"h":0.65,"r":0.4,"v":0.6,"o":0.3,"g":0.6},
{"x":1220,"b":0.6,"l":0.45,"h":0.78,"r":0.75,"v":0.75,"o":0.45,"g":0.62},
{"x":1240,"b":0.75,"l":0.6,"h":0.92,"r":0.9,"v":0.9,"o":0.55,"g":0.65},
{"x":1260,"b":0.65,"l":0.5,"h":0.85,"r":0.7,"v":0.85,"o":0.45,"g":0.7},
{"x":1280,"b":0.7,"l":0.55,"h":0.92,"r":0.85,"v":0.93,"o":0.5,"g":0.68},
{"x":1300,"b":0.8,"l":0.62,"h":1,"r":0.98,"v":0.98,"o":0.6,"g":0.65},
{"x":1320,"b":0.6,"l":0.45,"h":0.8,"r":0.5,"v":0.75,"o":0.4,"g":0.6},
{"x":1340,"b":0.45,"l":0.3,"h":0.62,"r":0.3,"v":0.55,"o":0.3,"g":0.58},
{"x":1360,"b":0.55,"l":0.4,"h":0.7,"r":0.1,"v":0.65,"o":0.35,"g":0.55},
{"x":1380,"b":0.65,"l":0.5,"h":0.82,"r":0.7,"v":0.8,"o":0.45,"g":0.55},
{"x":1400,"b":0.5,"l":0.35,"h":0.68,"r":0.6,"v":0.6,"o":0.3,"g":0.5},
{"x":1420,"b":0.5,"l":0.35,"h":0.7,"r":0.55,"v":0.82,"o":0.35,"g":0.5}],
"mPER3":[
{"x":0,"b":0.85,"l":0.7,"h":0.98,"r":0.6,"v":0.95,"o":0.65,"g":0.85},
{"x":20,"b":0.9,"l":0.8,"h":1,"r":0.98,"v":0.98,"o":0.85,"g":0.9},
{"x":40,"b":0.95,"l":0.85,"h":1,"r":0.98,"v":0.99,"o":0.9,"g":0.9},
{"x":55,"b":0.85,"l":0.72,"h":0.95,"r":0.9,"v":0.9,"o":0.75,"g":0.85},
{"x":70,"b":0.7,"l":0.55,"h":0.82,"r":0.75,"v":0.78,"o":0.6,"g":0.75},
{"x":85,"b":0.4,"l":0.25,"h":0.55,"r":0.45,"v":0.5,"o":0.3,"g":0.45},
{"x":100,"b":0.35,"l":0.2,"h":0.48,"r":0.1,"v":0.45,"o":0.2,"g":0.2},
{"x":115,"b":0.15,"l":0.05,"h":0.28,"r":0,"v":0.25,"o":0.05,"g":0.05},
{"x":135,"b":0.1,"l":0.02,"h":0.2,"r":0,"v":0.25,"o":0.02,"g":0.05},
{"x":155,"b":0.3,"l":0.15,"h":0.42,"r":0.35,"v":0.4,"o":0.15,"g":0.1},
{"x":175,"b":0.1,"l":0.02,"h":0.22,"r":0.05,"v":0.2,"o":0.02,"g":0.08},
{"x":195,"b":0.12,"l":0.03,"h":0.25,"r":0.15,"v":0.22,"o":0.05,"g":0.08},
{"x":220,"b":0.2,"l":0.08,"h":0.32,"r":0.3,"v":0.3,"o":0.08,"g":0.15},
{"x":242,"b":0.3,"l":0.15,"h":0.45,"r":0.4,"v":0.45,"o":0.15,"g":0.3},
{"x":260,"b":0.4,"l":0.25,"h":0.55,"r":0.55,"v":0.52,"o":0.25,"g":0.32},
{"x":280,"b":0.3,"l":0.15,"h":0.42,"r":0.35,"v":0.45,"o":0.15,"g":0.22},
{"x":300,"b":0.2,"l":0.08,"h":0.32,"r":0.15,"v":0.3,"o":0.08,"g":0.18},
{"x":320,"b":0.22,"l":0.1,"h":0.35,"r":0.35,"v":0.32,"o":0.1,"g":0.15},
{"x":340,"b":0.15,"l":0.05,"h":0.28,"r":0.05,"v":0.25,"o":0.05,"g":0.12},
{"x":360,"b":0.2,"l":0.08,"h":0.32,"r":0,"v":0.3,"o":0.08,"g":0.18},
{"x":384,"b":0.25,"l":0.12,"h":0.38,"r":0.2,"v":0.35,"o":0.15,"g":0.28},
{"x":405,"b":0.45,"l":0.3,"h":0.58,"r":0.6,"v":0.55,"o":0.35,"g":0.5},
{"x":420,"b":0.7,"l":0.55,"h":0.85,"r":0.9,"v":0.8,"o":0.6,"g":0.8},
{"x":437,"b":0.88,"l":0.75,"h":1,"r":1,"v":0.99,"o":0.8,"g":0.95},
{"x":455,"b":0.85,"l":0.72,"h":0.95,"r":0.8,"v":0.92,"o":0.75,"g":0.85},
{"x":472,"b":0.75,"l":0.6,"h":0.85,"r":0.5,"v":0.82,"o":0.62,"g":0.7},
{"x":490,"b":0.5,"l":0.35,"h":0.65,"r":0.15,"v":0.6,"o":0.35,"g":0.5},
{"x":505,"b":0.7,"l":0.55,"h":0.82,"r":0.8,"v":0.8,"o":0.55,"g":0.7},
{"x":520,"b":0.8,"l":0.65,"h":0.9,"r":0.95,"v":0.9,"o":0.68,"g":0.8},
{"x":543,"b":0.6,"l":0.45,"h":0.75,"r":0.55,"v":0.7,"o":0.45,"g":0.6},
{"x":561,"b":0.4,"l":0.25,"h":0.55,"r":0,"v":0.5,"o":0.25,"g":0.45},
{"x":578,"b":0.85,"l":0.72,"h":0.95,"r":0.95,"v":0.95,"o":0.7,"g":0.8},
{"x":600,"b":0.82,"l":0.7,"h":0.92,"r":0.85,"v":0.9,"o":0.7,"g":0.78},
{"x":620,"b":0.75,"l":0.6,"h":0.88,"r":0.95,"v":0.85,"o":0.6,"g":0.75},
{"x":640,"b":0.45,"l":0.3,"h":0.6,"r":0.4,"v":0.55,"o":0.3,"g":0.5},
{"x":662,"b":0.35,"l":0.2,"h":0.5,"r":0.05,"v":0.45,"o":0.2,"g":0.35},
{"x":685,"b":0.3,"l":0.15,"h":0.42,"r":0.25,"v":0.4,"o":0.15,"g":0.3},
{"x":700,"b":0.5,"l":0.35,"h":0.65,"r":0.6,"v":0.6,"o":0.35,"g":0.5},
{"x":718,"b":0.8,"l":0.65,"h":0.92,"r":0.9,"v":0.88,"o":0.65,"g":0.82},
{"x":738,"b":0.9,"l":0.8,"h":1.02,"r":1,"v":0.98,"o":0.8,"g":0.92},
{"x":765,"b":0.75,"l":0.6,"h":0.88,"r":0.85,"v":0.85,"o":0.6,"g":0.72},
{"x":791,"b":0.5,"l":0.35,"h":0.65,"r":0.4,"v":0.62,"o":0.35,"g":0.55},
{"x":818,"b":0.55,"l":0.4,"h":0.7,"r":0.6,"v":0.65,"o":0.4,"g":0.45},
{"x":840,"b":0.1,"l":0.02,"h":0.22,"r":0,"v":0.18,"o":0.02,"g":0.15},
{"x":862,"b":0.6,"l":0.45,"h":0.75,"r":0.75,"v":0.7,"o":0.45,"g":0.55},
{"x":888,"b":0.88,"l":0.75,"h":0.98,"r":0.95,"v":0.95,"o":0.78,"g":0.85},
{"x":910,"b":0.85,"l":0.72,"h":0.97,"r":0.9,"v":0.95,"o":0.72,"g":0.9},
{"x":933,"b":0.8,"l":0.65,"h":0.95,"r":0.9,"v":0.92,"o":0.65,"g":0.88},
{"x":950,"b":0.75,"l":0.6,"h":1.02,"r":0.2,"v":0.98,"o":0.55,"g":0.95},
{"x":970,"b":0.78,"l":0.62,"h":0.95,"r":0.85,"v":0.92,"o":0.6,"g":0.85},
{"x":990,"b":0.75,"l":0.6,"h":0.9,"r":0.8,"v":0.88,"o":0.58,"g":0.75},
{"x":1012,"b":0.65,"l":0.5,"h":0.82,"r":0.7,"v":0.8,"o":0.45,"g":0.7},
{"x":1040,"b":0.7,"l":0.55,"h":0.85,"r":0.75,"v":0.82,"o":0.5,"g":0.72},
{"x":1060,"b":0.6,"l":0.45,"h":0.75,"r":0.55,"v":0.7,"o":0.45,"g":0.6},
{"x":1083,"b":0.45,"l":0.3,"h":0.65,"r":0.06,"v":0.6,"o":0.35,"g":0.55},
{"x":1100,"b":0.9,"l":0.75,"h":1,"r":1,"v":0.98,"o":0.8,"g":0.85},
{"x":1113,"b":0.85,"l":0.7,"h":1,"r":0.98,"v":0.95,"o":0.75,"g":0.85}],
"CK1a":[
{"x":0,"b":0.6,"l":0.4,"h":0.8,"r":0.98,"v":0.8,"o":0.25,"g":0.35},
{"x":5,"b":0.4,"l":0.25,"h":0.55,"r":0.6,"v":0.5,"o":0.2,"g":0.33},
{"x":12,"b":0.3,"l":0.18,"h":0.42,"r":0.35,"v":0.38,"o":0.15,"g":0.3},
{"x":20,"b":0.3,"l":0.15,"h":0.45,"r":0.4,"v":0.48,"o":0.12,"g":0.25},
{"x":30,"b":0.17,"l":0.08,"h":0.35,"r":0.2,"v":0.25,"o":0.1,"g":0.2},
{"x":40,"b":0.17,"l":0.08,"h":0.4,"r":0.2,"v":0.35,"o":0.08,"g":0.16},
{"x":50,"b":0.2,"l":0.1,"h":0.52,"r":0.15,"v":0.58,"o":0.08,"g":0.12},
{"x":60,"b":0.15,"l":0.05,"h":0.35,"r":0.1,"v":0.3,"o":0.05,"g":0.08},
{"x":70,"b":0.08,"l":0.02,"h":0.18,"r":0.05,"v":0.1,"o":0.03,"g":0.05},
{"x":80,"b":0.05,"l":0.01,"h":0.12,"r":0.02,"v":0.08,"o":0.02,"g":0.05},
{"x":90,"b":0.1,"l":0.03,"h":0.2,"r":0.05,"v":0.2,"o":0.03,"g":0.08},
{"x":100,"b":0.1,"l":0.03,"h":0.18,"r":0.08,"v":0.12,"o":0.04,"g":0.12},
{"x":115,"b":0.1,"l":0.04,"h":0.2,"r":0.1,"v":0.15,"o":0.05,"g":0.15},
{"x":130,"b":0.15,"l":0.06,"h":0.28,"r":0.15,"v":0.2,"o":0.06,"g":0.2},
{"x":140,"b":0.22,"l":0.1,"h":0.35,"r":0.25,"v":0.32,"o":0.1,"g":0.23},
{"x":150,"b":0.2,"l":0.1,"h":0.35,"r":0.2,"v":0.28,"o":0.12,"g":0.25},
{"x":160,"b":0.25,"l":0.12,"h":0.45,"r":0.4,"v":0.52,"o":0.15,"g":0.27},
{"x":168,"b":0.28,"l":0.15,"h":0.42,"r":0.5,"v":0.3,"o":0.2,"g":0.28},
{"x":180,"b":0.32,"l":0.2,"h":0.45,"r":0.3,"v":0.38,"o":0.22,"g":0.3},
{"x":195,"b":0.38,"l":0.22,"h":0.55,"r":0.35,"v":0.65,"o":0.25,"g":0.28},
{"x":205,"b":0.2,"l":0.08,"h":0.35,"r":0.1,"v":0.25,"o":0.1,"g":0.25},
{"x":212,"b":0.07,"l":0.02,"h":0.18,"r":0.05,"v":0.1,"o":0.03,"g":0.2},
{"x":220,"b":0.15,"l":0.05,"h":0.3,"r":0.2,"v":0.2,"o":0.08,"g":0.18},
{"x":227,"b":0.42,"l":0.25,"h":0.6,"r":0.73,"v":0.6,"o":0.3,"g":0.2},
{"x":235,"b":0.5,"l":0.3,"h":0.65,"r":0.7,"v":0.55,"o":0.35,"g":0.2},
{"x":245,"b":0.35,"l":0.2,"h":0.5,"r":0.5,"v":0.4,"o":0.25,"g":0.15},
{"x":255,"b":0.15,"l":0.05,"h":0.28,"r":0.1,"v":0.2,"o":0.08,"g":0.1},
{"x":262,"b":0.1,"l":0.03,"h":0.25,"r":0.05,"v":0.15,"o":0.05,"g":0.08},
{"x":267,"b":0.28,"l":0.15,"h":0.45,"r":0.6,"v":0.45,"o":0.15,"g":0.06},
{"x":275,"b":0.15,"l":0.05,"h":0.3,"r":0.15,"v":0.2,"o":0.05,"g":0.04},
{"x":285,"b":0.05,"l":0.01,"h":0.12,"r":0.02,"v":0.08,"o":0.02,"g":0.02},
{"x":295,"b":0.03,"l":0,"h":0.1,"r":0,"v":0.05,"o":0.01,"g":0.03},
{"x":302,"b":0.1,"l":0.03,"h":0.25,"r":0.1,"v":0.15,"o":0.05,"g":0.15},
{"x":310,"b":0.55,"l":0.35,"h":0.75,"r":0.7,"v":0.6,"o":0.45,"g":0.5},
{"x":320,"b":0.85,"l":0.7,"h":0.98,"r":0.98,"v":0.9,"o":0.75,"g":0.75},
{"x":330,"b":0.9,"l":0.78,"h":1.02,"r":0.97,"v":0.95,"o":0.82,"g":0.88},
{"x":342,"b":0.95,"l":0.85,"h":1.05,"r":0.99,"v":0.98,"o":0.8,"g":0.96},
{"x":355,"b":0.88,"l":0.75,"h":1.02,"r":0.95,"v":0.93,"o":0.72,"g":0.98},
{"x":370,"b":0.85,"l":0.72,"h":1,"r":0.85,"v":0.88,"o":0.62,"g":0.97},
{"x":384,"b":0.82,"l":0.7,"h":0.98,"r":0.62,"v":0.9,"o":0.55,"g":0.97}],
"DBT":[
{"x":0,"b":0.45,"l":0.25,"h":0.65,"r":0.6,"v":0.8,"o":0.2,"g":0.35},
{"x":10,"b":0.3,"l":0.15,"h":0.45,"r":0.25,"v":0.5,"o":0.15,"g":0.32},
{"x":20,"b":0.2,"l":0.1,"h":0.35,"r":0.1,"v":0.3,"o":0.12,"g":0.28},
{"x":30,"b":0.2,"l":0.1,"h":0.38,"r":0.3,"v":0.25,"o":0.15,"g":0.22},
{"x":40,"b":0.28,"l":0.15,"h":0.45,"r":0.5,"v":0.35,"o":0.15,"g":0.2},
{"x":50,"b":0.15,"l":0.05,"h":0.3,"r":0.1,"v":0.25,"o":0.08,"g":0.18},
{"x":57,"b":0.22,"l":0.1,"h":0.42,"r":0.3,"v":0.47,"o":0.1,"g":0.17},
{"x":67,"b":0.15,"l":0.06,"h":0.28,"r":0.1,"v":0.2,"o":0.06,"g":0.16},
{"x":77,"b":0.12,"l":0.05,"h":0.22,"r":0.15,"v":0.15,"o":0.05,"g":0.15},
{"x":85,"b":0.2,"l":0.1,"h":0.35,"r":0.38,"v":0.3,"o":0.12,"g":0.14},
{"x":95,"b":0.12,"l":0.05,"h":0.22,"r":0.1,"v":0.2,"o":0.06,"g":0.13},
{"x":110,"b":0.12,"l":0.05,"h":0.25,"r":0.1,"v":0.2,"o":0.06,"g":0.13},
{"x":120,"b":0.15,"l":0.08,"h":0.28,"r":0.2,"v":0.25,"o":0.08,"g":0.14},
{"x":130,"b":0.2,"l":0.1,"h":0.32,"r":0.18,"v":0.35,"o":0.12,"g":0.17},
{"x":140,"b":0.12,"l":0.05,"h":0.25,"r":0.1,"v":0.2,"o":0.06,"g":0.2},
{"x":150,"b":0.05,"l":0.01,"h":0.15,"r":0.02,"v":0.1,"o":0.02,"g":0.22},
{"x":158,"b":0.35,"l":0.2,"h":0.55,"r":0.6,"v":0.5,"o":0.2,"g":0.3},
{"x":165,"b":0.45,"l":0.3,"h":0.7,"r":0.9,"v":0.7,"o":0.3,"g":0.35},
{"x":172,"b":0.48,"l":0.32,"h":0.6,"r":0.6,"v":0.55,"o":0.35,"g":0.34},
{"x":182,"b":0.3,"l":0.2,"h":0.42,"r":0.35,"v":0.38,"o":0.2,"g":0.28},
{"x":192,"b":0.35,"l":0.2,"h":0.55,"r":0.3,"v":0.63,"o":0.2,"g":0.22},
{"x":200,"b":0.05,"l":0.01,"h":0.15,"r":0.02,"v":0.1,"o":0.02,"g":0.12},
{"x":210,"b":0.03,"l":0,"h":0.1,"r":0.01,"v":0.08,"o":0.01,"g":0.1},
{"x":218,"b":0.3,"l":0.15,"h":0.5,"r":0.45,"v":0.4,"o":0.15,"g":0.11},
{"x":226,"b":0.52,"l":0.35,"h":0.75,"r":0.9,"v":0.7,"o":0.35,"g":0.12},
{"x":235,"b":0.3,"l":0.15,"h":0.45,"r":0.3,"v":0.4,"o":0.15,"g":0.12},
{"x":245,"b":0.1,"l":0.03,"h":0.22,"r":0.05,"v":0.15,"o":0.05,"g":0.1},
{"x":255,"b":0.08,"l":0.02,"h":0.18,"r":0.05,"v":0.12,"o":0.03,"g":0.08},
{"x":265,"b":0.25,"l":0.12,"h":0.38,"r":0.3,"v":0.4,"o":0.1,"g":0.06},
{"x":275,"b":0.1,"l":0.03,"h":0.2,"r":0.05,"v":0.15,"o":0.03,"g":0.04},
{"x":287,"b":0.05,"l":0.01,"h":0.12,"r":0.02,"v":0.08,"o":0.01,"g":0.03},
{"x":296,"b":0.03,"l":0,"h":0.1,"r":0,"v":0.05,"o":0,"g":0.03},
{"x":305,"b":0.5,"l":0.3,"h":0.65,"r":0.55,"v":0.6,"o":0.35,"g":0.2},
{"x":315,"b":0.7,"l":0.5,"h":0.9,"r":0.85,"v":0.8,"o":0.45,"g":0.55},
{"x":325,"b":0.75,"l":0.55,"h":1.03,"r":0.95,"v":0.92,"o":0.35,"g":0.78},
{"x":345,"b":0.87,"l":0.65,"h":1.03,"r":0.97,"v":0.94,"o":0.6,"g":0.87},
{"x":365,"b":0.86,"l":0.6,"h":1,"r":0.97,"v":0.93,"o":0.55,"g":0.86},
{"x":385,"b":0.8,"l":0.55,"h":0.95,"r":0.82,"v":0.92,"o":0.5,"g":0.85},
{"x":400,"b":0.88,"l":0.7,"h":1,"r":0.95,"v":0.95,"o":0.8,"g":0.9},
{"x":420,"b":0.92,"l":0.75,"h":1.03,"r":0.99,"v":0.99,"o":0.72,"g":0.94},
{"x":440,"b":0.75,"l":0.6,"h":1,"r":0.45,"v":0.99,"o":0.7,"g":0.95}],
"mCRY1":[
{"x":0,"b":0.27,"l":0.12,"h":0.55,"r":0,"v":0.75,"o":0.1,"g":0.2},
{"x":10,"b":0.12,"l":0.05,"h":0.25,"r":0.1,"v":0.2,"o":0.05,"g":0.12},
{"x":20,"b":0.2,"l":0.1,"h":0.32,"r":0.3,"v":0.35,"o":0.08,"g":0.13},
{"x":30,"b":0.1,"l":0.04,"h":0.2,"r":0.05,"v":0.15,"o":0.03,"g":0.12},
{"x":40,"b":0.05,"l":0.01,"h":0.12,"r":0.02,"v":0.08,"o":0.02,"g":0.1},
{"x":50,"b":0.1,"l":0.03,"h":0.2,"r":0.1,"v":0.22,"o":0.03,"g":0.08},
{"x":60,"b":0.05,"l":0.01,"h":0.12,"r":0.02,"v":0.1,"o":0.02,"g":0.07},
{"x":70,"b":0.15,"l":0.06,"h":0.25,"r":0.18,"v":0.22,"o":0.05,"g":0.08},
{"x":80,"b":0.1,"l":0.03,"h":0.2,"r":0.08,"v":0.15,"o":0.03,"g":0.07},
{"x":90,"b":0.05,"l":0.01,"h":0.12,"r":0,"v":0.1,"o":0.02,"g":0.07},
{"x":100,"b":0.2,"l":0.1,"h":0.35,"r":0.4,"v":0.3,"o":0.1,"g":0.1},
{"x":110,"b":0.38,"l":0.22,"h":0.55,"r":0.72,"v":0.55,"o":0.2,"g":0.15},
{"x":120,"b":0.25,"l":0.12,"h":0.38,"r":0.3,"v":0.35,"o":0.12,"g":0.17},
{"x":130,"b":0.2,"l":0.1,"h":0.32,"r":0.2,"v":0.28,"o":0.1,"g":0.18},
{"x":142,"b":0.15,"l":0.06,"h":0.28,"r":0.15,"v":0.25,"o":0.08,"g":0.2},
{"x":152,"b":0.25,"l":0.12,"h":0.4,"r":0.3,"v":0.38,"o":0.15,"g":0.25},
{"x":162,"b":0.38,"l":0.22,"h":0.52,"r":0.5,"v":0.5,"o":0.28,"g":0.4},
{"x":172,"b":0.55,"l":0.4,"h":0.7,"r":0.77,"v":0.7,"o":0.45,"g":0.58},
{"x":182,"b":0.48,"l":0.35,"h":0.62,"r":0.55,"v":0.58,"o":0.38,"g":0.65},
{"x":192,"b":0.55,"l":0.4,"h":0.7,"r":0.6,"v":0.65,"o":0.42,"g":0.68},
{"x":202,"b":0.45,"l":0.32,"h":0.6,"r":0.5,"v":0.55,"o":0.35,"g":0.6},
{"x":212,"b":0.5,"l":0.35,"h":0.65,"r":0.68,"v":0.6,"o":0.38,"g":0.55},
{"x":222,"b":0.48,"l":0.32,"h":0.65,"r":0.75,"v":0.58,"o":0.35,"g":0.45},
{"x":232,"b":0.35,"l":0.2,"h":0.5,"r":0.45,"v":0.45,"o":0.25,"g":0.38},
{"x":242,"b":0.4,"l":0.25,"h":0.55,"r":0.55,"v":0.5,"o":0.28,"g":0.3},
{"x":252,"b":0.15,"l":0.05,"h":0.28,"r":0,"v":0.25,"o":0.08,"g":0.2},
{"x":262,"b":0.1,"l":0.03,"h":0.2,"r":0,"v":0.15,"o":0.05,"g":0.12},
{"x":272,"b":0.2,"l":0.08,"h":0.32,"r":0.15,"v":0.35,"o":0.08,"g":0.1},
{"x":282,"b":0.3,"l":0.15,"h":0.45,"r":0.3,"v":0.5,"o":0.12,"g":0.1},
{"x":292,"b":0.1,"l":0.03,"h":0.2,"r":0.05,"v":0.15,"o":0.03,"g":0.08},
{"x":305,"b":0.05,"l":0.01,"h":0.12,"r":0,"v":0.1,"o":0.02,"g":0.08},
{"x":315,"b":0.15,"l":0.06,"h":0.25,"r":0.1,"v":0.22,"o":0.05,"g":0.1},
{"x":325,"b":0.12,"l":0.05,"h":0.22,"r":0.15,"v":0.2,"o":0.04,"g":0.12},
{"x":333,"b":0.22,"l":0.1,"h":0.38,"r":0.3,"v":0.48,"o":0.08,"g":0.14},
{"x":343,"b":0.1,"l":0.03,"h":0.2,"r":0.05,"v":0.15,"o":0.03,"g":0.15},
{"x":355,"b":0.15,"l":0.06,"h":0.25,"r":0.12,"v":0.22,"o":0.05,"g":0.17},
{"x":368,"b":0.1,"l":0.03,"h":0.2,"r":0.05,"v":0.15,"o":0.03,"g":0.2},
{"x":380,"b":0.12,"l":0.05,"h":0.22,"r":0.1,"v":0.2,"o":0.05,"g":0.22},
{"x":395,"b":0.06,"l":0.02,"h":0.15,"r":0.03,"v":0.12,"o":0.02,"g":0.18},
{"x":408,"b":0.05,"l":0.01,"h":0.12,"r":0.02,"v":0.1,"o":0.02,"g":0.12},
{"x":420,"b":0.25,"l":0.1,"h":0.4,"r":0.55,"v":0.45,"o":0.08,"g":0.1},
{"x":430,"b":0.1,"l":0.03,"h":0.2,"r":0.05,"v":0.15,"o":0.03,"g":0.08},
{"x":442,"b":0.08,"l":0.02,"h":0.18,"r":0.02,"v":0.12,"o":0.03,"g":0.08},
{"x":455,"b":0.05,"l":0.01,"h":0.12,"r":0,"v":0.1,"o":0.02,"g":0.1},
{"x":465,"b":0.1,"l":0.03,"h":0.22,"r":0.1,"v":0.2,"o":0.05,"g":0.15},
{"x":475,"b":0.42,"l":0.28,"h":0.55,"r":0.55,"v":0.5,"o":0.3,"g":0.35},
{"x":485,"b":0.42,"l":0.3,"h":0.55,"r":0.55,"v":0.5,"o":0.32,"g":0.42},
{"x":495,"b":0.35,"l":0.22,"h":0.5,"r":0.4,"v":0.45,"o":0.25,"g":0.48},
{"x":505,"b":0.65,"l":0.45,"h":0.88,"r":0.95,"v":0.85,"o":0.45,"g":0.6},
{"x":515,"b":0.7,"l":0.5,"h":0.9,"r":0.98,"v":0.9,"o":0.5,"g":0.65},
{"x":525,"b":0.78,"l":0.55,"h":0.95,"r":1,"v":0.95,"o":0.55,"g":0.7},
{"x":535,"b":0.75,"l":0.55,"h":0.95,"r":0.95,"v":0.93,"o":0.5,"g":0.72},
{"x":545,"b":0.8,"l":0.6,"h":0.97,"r":1,"v":0.97,"o":0.52,"g":0.68},
{"x":555,"b":0.65,"l":0.45,"h":0.9,"r":0.6,"v":0.9,"o":0.45,"g":0.62},
{"x":562,"b":0.72,"l":0.5,"h":0.95,"r":0.28,"v":0.95,"o":0.5,"g":0.7},
{"x":572,"b":0.9,"l":0.8,"h":0.98,"r":1,"v":0.95,"o":0.82,"g":0.85},
{"x":585,"b":0.92,"l":0.85,"h":1,"r":1,"v":0.96,"o":0.88,"g":0.88},
{"x":600,"b":0.93,"l":0.85,"h":1,"r":0.98,"v":0.97,"o":0.88,"g":0.9},
{"x":608,"b":0.92,"l":0.85,"h":1,"r":0.97,"v":0.96,"o":0.86,"g":0.92}],
"mCRY2":[
{"x":0,"b":0.45,"l":0.3,"h":0.75,"r":0.5,"v":0.9,"o":0,"g":0.35},
{"x":12,"b":0.38,"l":0.2,"h":0.6,"r":0.77,"v":0.5,"o":0.15,"g":0.3},
{"x":22,"b":0.2,"l":0.1,"h":0.35,"r":0.3,"v":0.3,"o":0.1,"g":0.25},
{"x":32,"b":0.15,"l":0.06,"h":0.28,"r":0.1,"v":0.22,"o":0.06,"g":0.2},
{"x":42,"b":0.05,"l":0.01,"h":0.12,"r":0.05,"v":0.1,"o":0.02,"g":0.15},
{"x":52,"b":0.03,"l":0,"h":0.1,"r":0,"v":0.06,"o":0.01,"g":0.1},
{"x":62,"b":0.03,"l":0,"h":0.1,"r":0.02,"v":0.06,"o":0.01,"g":0.08},
{"x":72,"b":0.08,"l":0.02,"h":0.18,"r":0.1,"v":0.15,"o":0.03,"g":0.08},
{"x":80,"b":0.2,"l":0.1,"h":0.4,"r":0.3,"v":0.53,"o":0.1,"g":0.1},
{"x":90,"b":0.15,"l":0.06,"h":0.28,"r":0.15,"v":0.2,"o":0.06,"g":0.12},
{"x":100,"b":0.22,"l":0.1,"h":0.35,"r":0.2,"v":0.3,"o":0.12,"g":0.14},
{"x":110,"b":0.15,"l":0.06,"h":0.28,"r":0.12,"v":0.2,"o":0.08,"g":0.16},
{"x":120,"b":0.1,"l":0.04,"h":0.2,"r":0.08,"v":0.15,"o":0.05,"g":0.18},
{"x":127,"b":0.25,"l":0.12,"h":0.4,"r":0.4,"v":0.35,"o":0.12,"g":0.22},
{"x":135,"b":0.42,"l":0.28,"h":0.55,"r":0.77,"v":0.5,"o":0.25,"g":0.25},
{"x":145,"b":0.35,"l":0.22,"h":0.48,"r":0.5,"v":0.45,"o":0.22,"g":0.24},
{"x":155,"b":0.3,"l":0.18,"h":0.42,"r":0.35,"v":0.4,"o":0.18,"g":0.22},
{"x":165,"b":0.25,"l":0.12,"h":0.38,"r":0.25,"v":0.35,"o":0.15,"g":0.2},
{"x":175,"b":0.35,"l":0.22,"h":0.5,"r":0.45,"v":0.45,"o":0.2,"g":0.3},
{"x":185,"b":0.55,"l":0.4,"h":0.68,"r":0.65,"v":0.6,"o":0.4,"g":0.5},
{"x":195,"b":0.63,"l":0.48,"h":0.78,"r":0.72,"v":0.72,"o":0.45,"g":0.65},
{"x":205,"b":0.55,"l":0.42,"h":0.72,"r":0.7,"v":0.65,"o":0.4,"g":0.6},
{"x":215,"b":0.5,"l":0.35,"h":0.7,"r":0.75,"v":0.62,"o":0.35,"g":0.55},
{"x":225,"b":0.45,"l":0.3,"h":0.7,"r":0.8,"v":0.6,"o":0.3,"g":0.48},
{"x":235,"b":0.4,"l":0.28,"h":0.62,"r":0.7,"v":0.55,"o":0.28,"g":0.42},
{"x":245,"b":0.45,"l":0.3,"h":0.65,"r":0.78,"v":0.55,"o":0.3,"g":0.38},
{"x":255,"b":0.35,"l":0.2,"h":0.55,"r":0.6,"v":0.45,"o":0.22,"g":0.35},
{"x":262,"b":0.45,"l":0.3,"h":0.7,"r":0.8,"v":0.6,"o":0.3,"g":0.3},
{"x":270,"b":0.05,"l":0.01,"h":0.15,"r":0,"v":0.1,"o":0.02,"g":0.2},
{"x":280,"b":0.02,"l":0,"h":0.08,"r":0,"v":0.05,"o":0.01,"g":0.12},
{"x":290,"b":0.03,"l":0,"h":0.1,"r":0,"v":0.08,"o":0.01,"g":0.08},
{"x":300,"b":0.07,"l":0.02,"h":0.15,"r":0.02,"v":0.12,"o":0.03,"g":0.06},
{"x":310,"b":0.02,"l":0,"h":0.08,"r":0,"v":0.05,"o":0,"g":0.06},
{"x":320,"b":0.08,"l":0.02,"h":0.18,"r":0.05,"v":0.12,"o":0.03,"g":0.08},
{"x":330,"b":0.15,"l":0.06,"h":0.25,"r":0.15,"v":0.2,"o":0.06,"g":0.1},
{"x":340,"b":0.2,"l":0.08,"h":0.3,"r":0.2,"v":0.22,"o":0.08,"g":0.11},
{"x":350,"b":0.15,"l":0.06,"h":0.25,"r":0.1,"v":0.2,"o":0.05,"g":0.12},
{"x":362,"b":0.1,"l":0.03,"h":0.2,"r":0.05,"v":0.15,"o":0.03,"g":0.11},
{"x":375,"b":0.08,"l":0.02,"h":0.18,"r":0.03,"v":0.12,"o":0.02,"g":0.1},
{"x":388,"b":0.03,"l":0,"h":0.1,"r":0,"v":0.08,"o":0.01,"g":0.09},
{"x":400,"b":0.03,"l":0,"h":0.12,"r":0.02,"v":0.08,"o":0.01,"g":0.09},
{"x":410,"b":0.07,"l":0.02,"h":0.2,"r":0.05,"v":0.2,"o":0.02,"g":0.08},
{"x":420,"b":0.03,"l":0,"h":0.1,"r":0,"v":0.06,"o":0.01,"g":0.08},
{"x":430,"b":0.02,"l":0,"h":0.08,"r":0,"v":0.05,"o":0,"g":0.08},
{"x":440,"b":0.35,"l":0.2,"h":0.5,"r":0.6,"v":0.45,"o":0.18,"g":0.1},
{"x":450,"b":0.2,"l":0.08,"h":0.35,"r":0.2,"v":0.3,"o":0.08,"g":0.12},
{"x":460,"b":0.15,"l":0.06,"h":0.28,"r":0.1,"v":0.22,"o":0.06,"g":0.14},
{"x":470,"b":0.15,"l":0.06,"h":0.28,"r":0.12,"v":0.22,"o":0.05,"g":0.15},
{"x":480,"b":0.25,"l":0.12,"h":0.4,"r":0.35,"v":0.35,"o":0.12,"g":0.18},
{"x":490,"b":0.2,"l":0.08,"h":0.32,"r":0.2,"v":0.28,"o":0.08,"g":0.22},
{"x":500,"b":0.4,"l":0.25,"h":0.55,"r":0.65,"v":0.58,"o":0.2,"g":0.3},
{"x":510,"b":0.25,"l":0.12,"h":0.4,"r":0.2,"v":0.35,"o":0.1,"g":0.32},
{"x":520,"b":0.2,"l":0.08,"h":0.35,"r":0.05,"v":0.3,"o":0.08,"g":0.4},
{"x":527,"b":0.35,"l":0.2,"h":0.55,"r":0.4,"v":0.5,"o":0.3,"g":0.55},
{"x":535,"b":0.75,"l":0.55,"h":0.95,"r":0.95,"v":0.9,"o":0.6,"g":0.75},
{"x":545,"b":0.88,"l":0.72,"h":1.02,"r":1,"v":0.98,"o":0.75,"g":0.88},
{"x":558,"b":0.85,"l":0.7,"h":1,"r":1,"v":0.97,"o":0.72,"g":0.92},
{"x":570,"b":0.85,"l":0.7,"h":1,"r":0.98,"v":0.96,"o":0.75,"g":0.93},
{"x":582,"b":0.88,"l":0.75,"h":1,"r":1,"v":0.98,"o":0.82,"g":0.93},
{"x":594,"b":0.9,"l":0.8,"h":1.02,"r":1,"v":0.99,"o":0.88,"g":0.94},
{"x":605,"b":0.95,"l":0.85,"h":1,"r":1,"v":1,"o":0.9,"g":0.95}],
"tgrid":[
{"r":0,"c":0,"d":6},
{"r":1,"c":0,"d":1},{"r":1,"c":1,"d":2},{"r":1,"c":2,"d":3},{"r":1,"c":3,"d":4},{"r":1,"c":4,"d":5},{"r":1,"c":5,"d":6},
{"r":2,"c":0,"d":1},{"r":2,"c":1,"d":2},{"r":2,"c":2,"d":3},{"r":2,"c":3,"d":4},{"r":2,"c":4,"d":5},{"r":2,"c":5,"d":6},
{"r":3,"c":0,"d":1},{"r":3,"c":1,"d":2},{"r":3,"c":2,"d":3},{"r":3,"c":3,"d":4},{"r":3,"c":4,"d":5},{"r":3,"c":5,"d":6},
{"r":4,"c":0,"d":1},{"r":4,"c":1,"d":2},{"r":4,"c":2,"d":3},{"r":4,"c":3,"d":4},{"r":4,"c":4,"d":5},{"r":4,"c":5,"d":6},
{"r":5,"c":4,"d":5},{"r":5,"c":5,"d":6},
{"r":6,"c":4,"d":5},{"r":6,"c":5,"d":6}],
"ttitle":[{"r":0,"m":2.87,"t":"Percent of Sequence Disorder"}],
"thi":[{"r":1,"m":0.5,"t":"Drosophila"},{"r":1,"m":2.5,"t":"Neurospora"},{"r":1,"m":4.5,"t":"Mus mus."}],
"thp":[{"r":1,"m":1.5,"t":"%"},{"r":1,"m":3.5,"t":"%"},{"r":1,"m":5.5,"t":"%"}],
"tbody":[
{"r":2,"m":0.5,"t":"dPER"},{"r":2,"m":1.5,"t":"70.2"},{"r":2,"m":2.5,"t":"FRQ"},{"r":2,"m":3.5,"t":"85.5"},{"r":2,"m":4.5,"t":"mPER1"},{"r":2,"m":5.5,"t":"68.3"},
{"r":3,"m":0.5,"t":"TIM"},{"r":3,"m":1.5,"t":"42.0"},{"r":3,"m":2.5,"t":"FRH"},{"r":3,"m":3.5,"t":"25.7"},{"r":3,"m":4.5,"t":"mPER2"},{"r":3,"m":5.5,"t":"66.2"},
{"r":4,"m":0.5,"t":"DBT"},{"r":4,"m":1.5,"t":"32.0"},{"r":4,"m":2.5,"t":"CK-1a"},{"r":4,"m":3.5,"t":"21.4"},{"r":4,"m":4.5,"t":"mPER3"},{"r":4,"m":5.5,"t":"51.7"},
{"r":5,"m":4.5,"t":"CRY1"},{"r":5,"m":5.5,"t":"21.6"},
{"r":6,"m":4.5,"t":"CRY2"},{"r":6,"m":5.5,"t":"16.9"}]
},
"columns":3,
"bounds":"flush",
"align":{"row":"all","column":"each"},
"spacing":{"row":41,"column":56},
"concat":[
{"title":{"text":"Mus musculus","subtitle":"mPER1","fontSize":17,"fontStyle":"italic","subtitlePadding":3},"width":209,"height":140,"data":{"name":"mPER1"},
"encoding":{"x":{"field":"x","type":"quantitative","title":"Amino Acid Number","scale":{"domain":[0,1272],"nice":false},"axis":{"values":[0,100,200,300,400,500,600,700,800,900,1000,1100,1200],"format":"d","labelAngle":-45,"labelFontSize":9.5,"titlePadding":1}}},
"layer":[
{"mark":{"type":"area","color":"#a9b1f4","opacity":0.85},"encoding":{"y":{"field":"l","type":"quantitative","title":"Disorder Propensity","scale":{"domain":[0,1.1],"nice":false},"axis":{"values":[0,0.5,1],"format":".1f","grid":true,"gridColor":"#888","gridWidth":0.7,"gridOpacity":{"condition":{"test":"datum.value===0.5","value":1},"value":0}}},"y2":{"field":"h"}}},
{"transform":[{"fold":["o","g","r","v"],"as":["s","y"]}],"mark":{"type":"line","strokeWidth":1},"encoding":{"y":{"field":"y","type":"quantitative","title":"Disorder Propensity"},"color":{"field":"s","type":"nominal","scale":{"domain":["o","g","r","v"],"range":["#f0883a","#5cb548","#e32a2a","#a640d4"]},"legend":null}}},
{"mark":{"type":"line","color":"#2b35e6","strokeWidth":1.6},"encoding":{"y":{"field":"b","type":"quantitative","title":"Disorder Propensity"}}}]},
{"title":{"text":"Neurospora","subtitle":"FRQ","fontSize":17,"fontStyle":"italic","subtitlePadding":3},"width":207,"height":149,"data":{"name":"FRQ"},
"encoding":{"x":{"field":"x","type":"quantitative","title":"Amino Acid Number","scale":{"domain":[0,1005],"nice":false},"axis":{"values":[0,100,200,300,400,500,600,700,800,900],"format":"d","labelAngle":0}}},
"layer":[
{"mark":{"type":"area","color":"#a9b1f4","opacity":0.85},"encoding":{"y":{"field":"l","type":"quantitative","title":"Disorder Propensity","scale":{"domain":[0,1.1],"nice":false},"axis":{"values":[0,0.5,1],"format":".1f","grid":true,"gridColor":"#888","gridWidth":0.7,"gridOpacity":{"condition":{"test":"datum.value===0.5","value":1},"value":0}}},"y2":{"field":"h"}}},
{"transform":[{"fold":["o","g","r","v"],"as":["s","y"]}],"mark":{"type":"line","strokeWidth":1},"encoding":{"y":{"field":"y","type":"quantitative","title":"Disorder Propensity"},"color":{"field":"s","type":"nominal","scale":{"domain":["o","g","r","v"],"range":["#f0883a","#5cb548","#e32a2a","#a640d4"]},"legend":null}}},
{"mark":{"type":"line","color":"#2b35e6","strokeWidth":1.6},"encoding":{"y":{"field":"b","type":"quantitative","title":"Disorder Propensity"}}}]},
{"title":{"text":"Drosophila\u00a0\u00a0\u00a0\u00a0\u00a0\u00a0\u00a0\u00a0\u00a0\u00a0\u00a0","subtitle":"dPER","fontSize":17,"fontStyle":"italic","subtitlePadding":3},"width":211,"height":139,"data":{"name":"dPER"},
"encoding":{"x":{"field":"x","type":"quantitative","title":"Amino Acid Number","scale":{"domain":[0,1232],"nice":false},"axis":{"values":[0,100,200,300,400,500,600,700,800,900,1000,1100,1200],"format":"d","labelAngle":-45,"labelFontSize":9.5,"titlePadding":1}}},
"layer":[
{"mark":{"type":"area","color":"#a9b1f4","opacity":0.85},"encoding":{"y":{"field":"l","type":"quantitative","title":"Disorder Propensity","scale":{"domain":[0,1.1],"nice":false},"axis":{"values":[0,0.5,1],"format":".1f","grid":true,"gridColor":"#888","gridWidth":0.7,"gridOpacity":{"condition":{"test":"datum.value===0.5","value":1},"value":0}}},"y2":{"field":"h"}}},
{"transform":[{"fold":["o","g","r","v"],"as":["s","y"]}],"mark":{"type":"line","strokeWidth":1},"encoding":{"y":{"field":"y","type":"quantitative","title":"Disorder Propensity"},"color":{"field":"s","type":"nominal","scale":{"domain":["o","g","r","v"],"range":["#f0883a","#5cb548","#e32a2a","#a640d4"]},"legend":null}}},
{"mark":{"type":"line","color":"#2b35e6","strokeWidth":1.6},"encoding":{"y":{"field":"b","type":"quantitative","title":"Disorder Propensity"}}}]},
{"title":"mPER2","width":209,"height":140,"data":{"name":"mPER2"},
"encoding":{"x":{"field":"x","type":"quantitative","title":"Amino Acid Number","scale":{"domain":[0,1262],"nice":false},"axis":{"values":[0,100,200,300,400,500,600,700,800,900,1000,1100,1200],"format":"d","labelAngle":-45,"labelFontSize":9.5,"titlePadding":1}}},
"layer":[
{"mark":{"type":"area","color":"#a9b1f4","opacity":0.85},"encoding":{"y":{"field":"l","type":"quantitative","title":"Disorder Propensity","scale":{"domain":[0,1.1],"nice":false},"axis":{"values":[0,0.5,1],"format":".1f","grid":true,"gridColor":"#888","gridWidth":0.7,"gridOpacity":{"condition":{"test":"datum.value===0.5","value":1},"value":0}}},"y2":{"field":"h"}}},
{"transform":[{"fold":["o","g","r","v"],"as":["s","y"]}],"mark":{"type":"line","strokeWidth":1},"encoding":{"y":{"field":"y","type":"quantitative","title":"Disorder Propensity"},"color":{"field":"s","type":"nominal","scale":{"domain":["o","g","r","v"],"range":["#f0883a","#5cb548","#e32a2a","#a640d4"]},"legend":null}}},
{"mark":{"type":"line","color":"#2b35e6","strokeWidth":1.6},"encoding":{"y":{"field":"b","type":"quantitative","title":"Disorder Propensity"}}}]},
{"title":"FRH","width":207,"height":146,"data":{"name":"FRH"},
"encoding":{"x":{"field":"x","type":"quantitative","title":"Amino Acid Number","scale":{"domain":[0,1110],"nice":false},"axis":{"values":[0,100,200,300,400,500,600,700,800,900,1000,1100],"format":"d","labelAngle":-45,"labelFontSize":9.5,"titlePadding":1}}},
"layer":[
{"mark":{"type":"area","color":"#a9b1f4","opacity":0.85},"encoding":{"y":{"field":"l","type":"quantitative","title":"Disorder Propensity","scale":{"domain":[0,1.1],"nice":false},"axis":{"values":[0,0.5,1],"format":".1f","grid":true,"gridColor":"#888","gridWidth":0.7,"gridOpacity":{"condition":{"test":"datum.value===0.5","value":1},"value":0}}},"y2":{"field":"h"}}},
{"transform":[{"fold":["o","g","r","v"],"as":["s","y"]}],"mark":{"type":"line","strokeWidth":1},"encoding":{"y":{"field":"y","type":"quantitative","title":"Disorder Propensity"},"color":{"field":"s","type":"nominal","scale":{"domain":["o","g","r","v"],"range":["#f0883a","#5cb548","#e32a2a","#a640d4"]},"legend":null}}},
{"mark":{"type":"line","color":"#2b35e6","strokeWidth":1.6},"encoding":{"y":{"field":"b","type":"quantitative","title":"Disorder Propensity"}}}]},
{"title":"TIM","width":211,"height":142,"data":{"name":"TIM"},
"encoding":{"x":{"field":"x","type":"quantitative","title":"Amino Acid Number","scale":{"domain":[0,1440],"nice":false},"axis":{"values":[0,100,200,300,400,500,600,700,800,900,1000,1100,1200,1300],"format":"d","labelAngle":-45,"labelFontSize":9.5,"titlePadding":1}}},
"layer":[
{"mark":{"type":"area","color":"#a9b1f4","opacity":0.85},"encoding":{"y":{"field":"l","type":"quantitative","title":"Disorder Propensity","scale":{"domain":[0,1.1],"nice":false},"axis":{"values":[0,0.5,1],"format":".1f","grid":true,"gridColor":"#888","gridWidth":0.7,"gridOpacity":{"condition":{"test":"datum.value===0.5","value":1},"value":0}}},"y2":{"field":"h"}}},
{"transform":[{"fold":["o","g","r","v"],"as":["s","y"]}],"mark":{"type":"line","strokeWidth":1},"encoding":{"y":{"field":"y","type":"quantitative","title":"Disorder Propensity"},"color":{"field":"s","type":"nominal","scale":{"domain":["o","g","r","v"],"range":["#f0883a","#5cb548","#e32a2a","#a640d4"]},"legend":null}}},
{"mark":{"type":"line","color":"#2b35e6","strokeWidth":1.6},"encoding":{"y":{"field":"b","type":"quantitative","title":"Disorder Propensity"}}}]},
{"title":"mPER3","width":209,"height":144,"data":{"name":"mPER3"},
"encoding":{"x":{"field":"x","type":"quantitative","title":"Amino Acid Number","scale":{"domain":[0,1113],"nice":false},"axis":{"values":[0,100,200,300,400,500,600,700,800,900,1000,1100],"format":"d","labelAngle":-45,"labelFontSize":9.5,"titlePadding":1}}},
"layer":[
{"mark":{"type":"area","color":"#a9b1f4","opacity":0.85},"encoding":{"y":{"field":"l","type":"quantitative","title":"Disorder Propensity","scale":{"domain":[0,1.1],"nice":false},"axis":{"values":[0,0.5,1],"format":".1f","grid":true,"gridColor":"#888","gridWidth":0.7,"gridOpacity":{"condition":{"test":"datum.value===0.5","value":1},"value":0}}},"y2":{"field":"h"}}},
{"transform":[{"fold":["o","g","r","v"],"as":["s","y"]}],"mark":{"type":"line","strokeWidth":1},"encoding":{"y":{"field":"y","type":"quantitative","title":"Disorder Propensity"},"color":{"field":"s","type":"nominal","scale":{"domain":["o","g","r","v"],"range":["#f0883a","#5cb548","#e32a2a","#a640d4"]},"legend":null}}},
{"mark":{"type":"line","color":"#2b35e6","strokeWidth":1.6},"encoding":{"y":{"field":"b","type":"quantitative","title":"Disorder Propensity"}}}]},
{"title":{"text":"CK-1a","offset":1},"width":207,"height":150,"data":{"name":"CK1a"},
"encoding":{"x":{"field":"x","type":"quantitative","title":"Amino Acid Number","scale":{"domain":[0,385],"nice":false},"axis":{"values":[0,100,200,300],"format":"d","labelAngle":0,"labelFontSize":13,"titlePadding":1}}},
"layer":[
{"mark":{"type":"area","color":"#a9b1f4","opacity":0.85},"encoding":{"y":{"field":"l","type":"quantitative","title":"Disorder Propensity","scale":{"domain":[0,1.1],"nice":false},"axis":{"values":[0,0.5,1],"format":".1f","grid":true,"gridColor":"#888","gridWidth":0.7,"gridOpacity":{"condition":{"test":"datum.value===0.5","value":1},"value":0}}},"y2":{"field":"h"}}},
{"transform":[{"fold":["o","g","r","v"],"as":["s","y"]}],"mark":{"type":"line","strokeWidth":1},"encoding":{"y":{"field":"y","type":"quantitative","title":"Disorder Propensity"},"color":{"field":"s","type":"nominal","scale":{"domain":["o","g","r","v"],"range":["#f0883a","#5cb548","#e32a2a","#a640d4"]},"legend":null}}},
{"mark":{"type":"line","color":"#2b35e6","strokeWidth":1.6},"encoding":{"y":{"field":"b","type":"quantitative","title":"Disorder Propensity"}}}]},
{"title":"DBT","width":211,"height":144,"data":{"name":"DBT"},
"encoding":{"x":{"field":"x","type":"quantitative","title":"Amino Acid Number","scale":{"domain":[0,440],"nice":false},"axis":{"values":[0,100,200,300,400],"format":"d","labelAngle":0,"labelFontSize":13,"titlePadding":1}}},
"layer":[
{"mark":{"type":"area","color":"#a9b1f4","opacity":0.85},"encoding":{"y":{"field":"l","type":"quantitative","title":"Disorder Propensity","scale":{"domain":[0,1.1],"nice":false},"axis":{"values":[0,0.5,1],"format":".1f","grid":true,"gridColor":"#888","gridWidth":0.7,"gridOpacity":{"condition":{"test":"datum.value===0.5","value":1},"value":0}}},"y2":{"field":"h"}}},
{"transform":[{"fold":["o","g","r","v"],"as":["s","y"]}],"mark":{"type":"line","strokeWidth":1},"encoding":{"y":{"field":"y","type":"quantitative","title":"Disorder Propensity"},"color":{"field":"s","type":"nominal","scale":{"domain":["o","g","r","v"],"range":["#f0883a","#5cb548","#e32a2a","#a640d4"]},"legend":null}}},
{"mark":{"type":"line","color":"#2b35e6","strokeWidth":1.6},"encoding":{"y":{"field":"b","type":"quantitative","title":"Disorder Propensity"}}}]},
{"title":"mCRY1","width":209,"height":146,"data":{"name":"mCRY1"},
"encoding":{"x":{"field":"x","type":"quantitative","title":"Amino Acid Number","scale":{"domain":[0,610],"nice":false},"axis":{"values":[0,100,200,300,400,500,600],"format":"d","labelAngle":0,"labelFontSize":13,"titlePadding":1}}},
"layer":[
{"mark":{"type":"area","color":"#a9b1f4","opacity":0.85},"encoding":{"y":{"field":"l","type":"quantitative","title":"Disorder Propensity","scale":{"domain":[0,1.1],"nice":false},"axis":{"values":[0,0.5,1],"format":".1f","grid":true,"gridColor":"#888","gridWidth":0.7,"gridOpacity":{"condition":{"test":"datum.value===0.5","value":1},"value":0}}},"y2":{"field":"h"}}},
{"transform":[{"fold":["o","g","r","v"],"as":["s","y"]}],"mark":{"type":"line","strokeWidth":1},"encoding":{"y":{"field":"y","type":"quantitative","title":"Disorder Propensity"},"color":{"field":"s","type":"nominal","scale":{"domain":["o","g","r","v"],"range":["#f0883a","#5cb548","#e32a2a","#a640d4"]},"legend":null}}},
{"mark":{"type":"line","color":"#2b35e6","strokeWidth":1.6},"encoding":{"y":{"field":"b","type":"quantitative","title":"Disorder Propensity"}}}]},
{"width":207,"height":154,
"layer":[
{"data":{"name":"tgrid"},"mark":{"type":"rect","fill":"white","stroke":"#222","strokeWidth":1.3},"encoding":{"x":{"field":"c","type":"quantitative","scale":{"domain":[0,1,2,3,4,5,6],"range":[-10,74,137,237,304,380,457],"nice":false,"zero":false},"axis":null},"x2":{"field":"d"},"y":{"field":"r","type":"ordinal","scale":{"paddingInner":0,"paddingOuter":0},"axis":null}}},
{"data":{"name":"ttitle"},"mark":{"type":"text","fontSize":13,"fontWeight":"bold","color":"#000"},"encoding":{"x":{"field":"m","type":"quantitative","axis":null},"y":{"field":"r","type":"ordinal","axis":null},"text":{"field":"t"}}},
{"data":{"name":"thi"},"mark":{"type":"text","fontSize":12.5,"fontWeight":"bold","fontStyle":"italic","color":"#000"},"encoding":{"x":{"field":"m","type":"quantitative","axis":null},"y":{"field":"r","type":"ordinal","axis":null},"text":{"field":"t"}}},
{"data":{"name":"thp"},"mark":{"type":"text","fontSize":12.5,"fontWeight":"bold","color":"#000"},"encoding":{"x":{"field":"m","type":"quantitative","axis":null},"y":{"field":"r","type":"ordinal","axis":null},"text":{"field":"t"}}},
{"data":{"name":"tbody"},"mark":{"type":"text","fontSize":12.5,"color":"#000"},"encoding":{"x":{"field":"m","type":"quantitative","axis":null},"y":{"field":"r","type":"ordinal","axis":null},"text":{"field":"t"}}}]},
{"data":{"values":[]},"mark":"point","width":1,"height":1},
{"title":"mCRY2","width":209,"height":148,"data":{"name":"mCRY2"},
"encoding":{"x":{"field":"x","type":"quantitative","title":"Amino Acid Number","scale":{"domain":[0,607],"nice":false},"axis":{"values":[0,100,200,300,400,500],"format":"d","labelAngle":0,"labelFontSize":13,"titlePadding":1}}},
"layer":[
{"mark":{"type":"area","color":"#a9b1f4","opacity":0.85},"encoding":{"y":{"field":"l","type":"quantitative","title":"Disorder Propensity","scale":{"domain":[0,1.1],"nice":false},"axis":{"values":[0,0.5,1],"format":".1f","grid":true,"gridColor":"#888","gridWidth":0.7,"gridOpacity":{"condition":{"test":"datum.value===0.5","value":1},"value":0}}},"y2":{"field":"h"}}},
{"transform":[{"fold":["o","g","r","v"],"as":["s","y"]}],"mark":{"type":"line","strokeWidth":1},"encoding":{"y":{"field":"y","type":"quantitative","title":"Disorder Propensity"},"color":{"field":"s","type":"nominal","scale":{"domain":["o","g","r","v"],"range":["#f0883a","#5cb548","#e32a2a","#a640d4"]},"legend":null}}},
{"mark":{"type":"line","color":"#2b35e6","strokeWidth":1.6},"encoding":{"y":{"field":"b","type":"quantitative","title":"Disorder Propensity"}}}]}
]
}
